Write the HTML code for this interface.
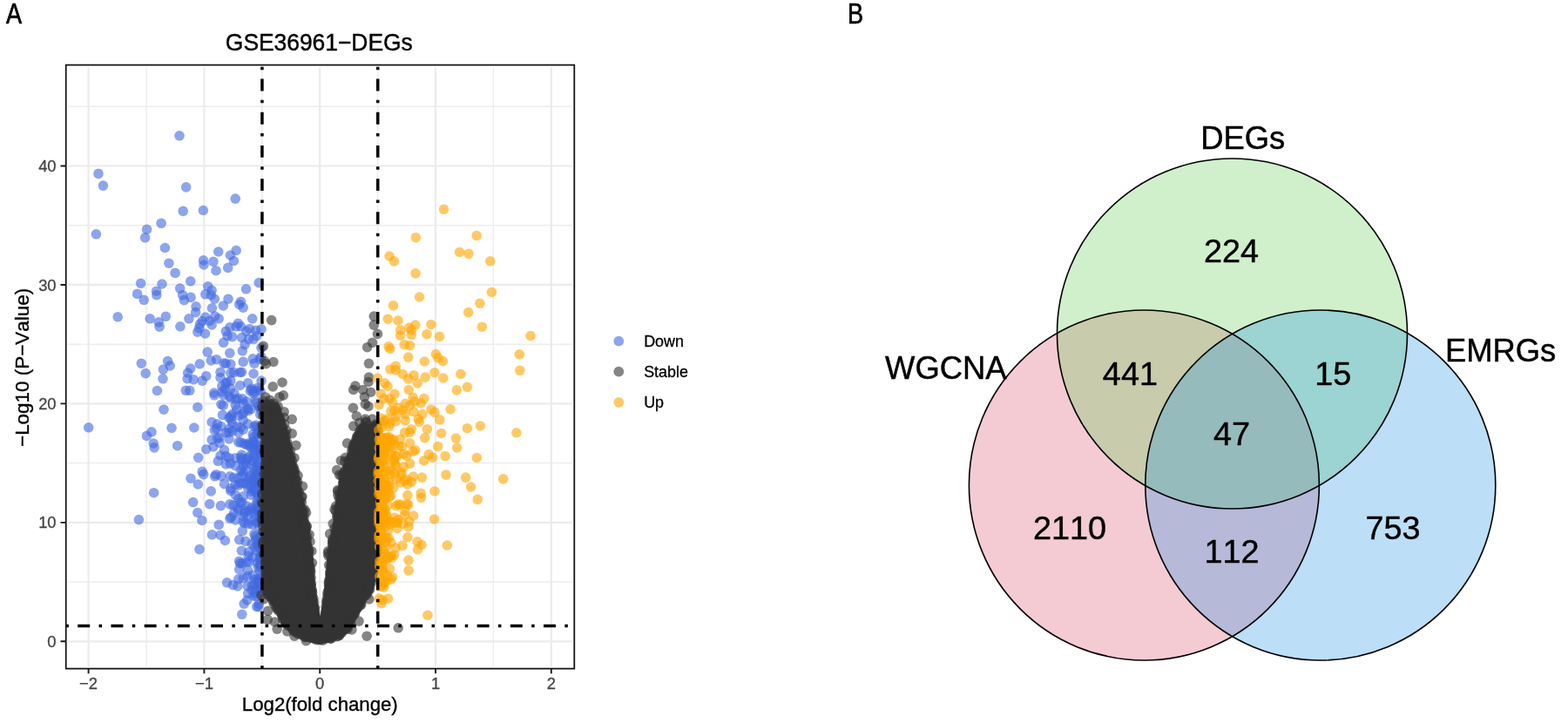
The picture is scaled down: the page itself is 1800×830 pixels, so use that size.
<!DOCTYPE html>
<html lang="en"><head><meta charset="utf-8"><title>GSE36961 DEGs volcano plot and Venn diagram</title>
<style>html,body{margin:0;padding:0;background:#fff;}body{width:1800px;height:830px;overflow:hidden;}svg{display:block;font-family:"Liberation Sans",sans-serif;font-kerning:none;}.pl{font-size:32.6px;fill:#000;stroke:#000;stroke-width:0.7px;}.at{font-size:18.4px;fill:#444;stroke:#444;stroke-width:0.3px;}.ax{font-size:22.2px;fill:#000;stroke:#000;stroke-width:0.35px;}.tt{font-size:26.4px;fill:#000;stroke:#000;stroke-width:0.4px;}.lg{font-size:17.9px;fill:#000;stroke:#000;stroke-width:0.3px;}.vl{font-size:36.4px;fill:#000;stroke:#000;stroke-width:0.45px;}.vn{font-size:37.8px;fill:#000;stroke:#000;stroke-width:0.45px;}</style></head><body>
<svg width="1800" height="830" viewBox="0 0 1800 830" role="img" aria-label="Volcano plot of GSE36961 DEGs and Venn diagram of DEGs, WGCNA and EMRGs">
<rect x="0" y="0" width="1800" height="830" fill="#ffffff"/>
<text class="pl" transform="translate(6.9 27) scale(0.83 1)">A</text>
<text class="pl" transform="translate(973 27) scale(0.83 1)">B</text>
<g id="volcano">
<path d="M168.00 77.20V765.20M300.80 77.20V765.20M433.60 77.20V765.20M566.40 77.20V765.20M78.20 668.07H656.40M78.20 531.62H656.40M78.20 395.17H656.40M78.20 258.72H656.40M78.20 122.27H656.40" stroke="#ededed" stroke-width="1.5" fill="none"/>
<path d="M101.60 77.20V765.20M234.40 77.20V765.20M367.20 77.20V765.20M500.00 77.20V765.20M632.80 77.20V765.20M78.20 736.30H656.40M78.20 599.85H656.40M78.20 463.40H656.40M78.20 326.95H656.40M78.20 190.50H656.40" stroke="#ebebeb" stroke-width="2.2" fill="none"/>
<g fill="#4169e1" fill-opacity="0.6">
<circle cx="206.0" cy="155.8" r="5.8"/>
<circle cx="113.0" cy="199.4" r="5.8"/>
<circle cx="118.4" cy="213.1" r="5.8"/>
<circle cx="213.6" cy="214.9" r="5.8"/>
<circle cx="270.2" cy="228.1" r="5.8"/>
<circle cx="210.2" cy="242.4" r="5.8"/>
<circle cx="233.3" cy="241.5" r="5.8"/>
<circle cx="185.1" cy="256.3" r="5.8"/>
<circle cx="168.6" cy="263.4" r="5.8"/>
<circle cx="110.4" cy="268.8" r="5.8"/>
<circle cx="166.6" cy="272.8" r="5.8"/>
<circle cx="189.4" cy="284.5" r="5.8"/>
<circle cx="193.9" cy="302.2" r="5.8"/>
<circle cx="201.1" cy="313.4" r="5.8"/>
<circle cx="218.7" cy="322.8" r="5.8"/>
<circle cx="250.7" cy="289.0" r="5.8"/>
<circle cx="271.1" cy="287.5" r="5.8"/>
<circle cx="264.4" cy="293.0" r="5.8"/>
<circle cx="268.4" cy="299.5" r="5.8"/>
<circle cx="261.7" cy="307.4" r="5.8"/>
<circle cx="233.5" cy="298.9" r="5.8"/>
<circle cx="234.0" cy="304.0" r="5.8"/>
<circle cx="244.9" cy="300.4" r="5.8"/>
<circle cx="248.0" cy="310.7" r="5.8"/>
<circle cx="161.6" cy="325.3" r="5.8"/>
<circle cx="186.0" cy="326.0" r="5.8"/>
<circle cx="157.6" cy="337.4" r="5.8"/>
<circle cx="165.2" cy="344.3" r="5.8"/>
<circle cx="179.5" cy="334.2" r="5.8"/>
<circle cx="179.8" cy="338.7" r="5.8"/>
<circle cx="206.6" cy="331.1" r="5.8"/>
<circle cx="209.6" cy="338.7" r="5.8"/>
<circle cx="211.4" cy="344.6" r="5.8"/>
<circle cx="219.0" cy="341.4" r="5.8"/>
<circle cx="238.7" cy="328.7" r="5.8"/>
<circle cx="243.1" cy="333.3" r="5.8"/>
<circle cx="235.8" cy="337.8" r="5.8"/>
<circle cx="242.2" cy="338.7" r="5.8"/>
<circle cx="246.3" cy="343.2" r="5.8"/>
<circle cx="262.0" cy="343.2" r="5.8"/>
<circle cx="282.5" cy="331.8" r="5.8"/>
<circle cx="297.3" cy="324.6" r="5.8"/>
<circle cx="276.5" cy="346.3" r="5.8"/>
<circle cx="274.7" cy="349.5" r="5.8"/>
<circle cx="279.2" cy="353.1" r="5.8"/>
<circle cx="256.3" cy="351.0" r="5.8"/>
<circle cx="243.4" cy="353.7" r="5.8"/>
<circle cx="225.0" cy="351.9" r="5.8"/>
<circle cx="224.6" cy="358.6" r="5.8"/>
<circle cx="135.2" cy="363.8" r="5.8"/>
<circle cx="172.2" cy="365.8" r="5.8"/>
<circle cx="190.3" cy="363.3" r="5.8"/>
<circle cx="182.2" cy="369.9" r="5.8"/>
<circle cx="183.1" cy="375.2" r="5.8"/>
<circle cx="206.9" cy="374.8" r="5.8"/>
<circle cx="216.9" cy="365.8" r="5.8"/>
<circle cx="235.8" cy="364.0" r="5.8"/>
<circle cx="232.2" cy="368.5" r="5.8"/>
<circle cx="240.4" cy="368.5" r="5.8"/>
<circle cx="246.7" cy="363.1" r="5.8"/>
<circle cx="251.2" cy="365.8" r="5.8"/>
<circle cx="243.1" cy="373.0" r="5.8"/>
<circle cx="229.5" cy="372.1" r="5.8"/>
<circle cx="228.6" cy="376.6" r="5.8"/>
<circle cx="226.8" cy="381.1" r="5.8"/>
<circle cx="235.5" cy="383.0" r="5.8"/>
<circle cx="289.7" cy="365.8" r="5.8"/>
<circle cx="273.4" cy="371.2" r="5.8"/>
<circle cx="263.9" cy="375.7" r="5.8"/>
<circle cx="271.1" cy="374.8" r="5.8"/>
<circle cx="276.5" cy="374.8" r="5.8"/>
<circle cx="259.3" cy="380.2" r="5.8"/>
<circle cx="261.1" cy="385.7" r="5.8"/>
<circle cx="266.6" cy="386.6" r="5.8"/>
<circle cx="256.6" cy="393.3" r="5.8"/>
<circle cx="286.4" cy="377.5" r="5.8"/>
<circle cx="293.7" cy="379.3" r="5.8"/>
<circle cx="300.0" cy="377.9" r="5.8"/>
<circle cx="282.8" cy="380.2" r="5.8"/>
<circle cx="277.4" cy="387.5" r="5.8"/>
<circle cx="285.5" cy="389.3" r="5.8"/>
<circle cx="291.0" cy="389.3" r="5.8"/>
<circle cx="294.6" cy="385.7" r="5.8"/>
<circle cx="281.0" cy="395.6" r="5.8"/>
<circle cx="300.0" cy="399.2" r="5.8"/>
<circle cx="278.3" cy="402.8" r="5.8"/>
<circle cx="238.2" cy="404.1" r="5.8"/>
<circle cx="162.3" cy="417.2" r="5.8"/>
<circle cx="167.2" cy="428.6" r="5.8"/>
<circle cx="192.5" cy="414.5" r="5.8"/>
<circle cx="195.2" cy="419.9" r="5.8"/>
<circle cx="187.4" cy="424.1" r="5.8"/>
<circle cx="187.0" cy="434.8" r="5.8"/>
<circle cx="180.4" cy="448.5" r="5.8"/>
<circle cx="218.7" cy="423.0" r="5.8"/>
<circle cx="215.6" cy="428.1" r="5.8"/>
<circle cx="215.1" cy="434.8" r="5.8"/>
<circle cx="222.3" cy="435.8" r="5.8"/>
<circle cx="229.2" cy="417.8" r="5.8"/>
<circle cx="236.7" cy="431.7" r="5.8"/>
<circle cx="232.2" cy="437.1" r="5.8"/>
<circle cx="213.3" cy="448.3" r="5.8"/>
<circle cx="217.8" cy="448.3" r="5.8"/>
<circle cx="242.2" cy="414.0" r="5.8"/>
<circle cx="248.5" cy="412.7" r="5.8"/>
<circle cx="259.3" cy="417.2" r="5.8"/>
<circle cx="264.8" cy="418.1" r="5.8"/>
<circle cx="279.2" cy="415.4" r="5.8"/>
<circle cx="291.9" cy="417.2" r="5.8"/>
<circle cx="253.0" cy="427.2" r="5.8"/>
<circle cx="264.8" cy="428.1" r="5.8"/>
<circle cx="277.4" cy="427.2" r="5.8"/>
<circle cx="291.0" cy="429.0" r="5.8"/>
<circle cx="253.0" cy="433.5" r="5.8"/>
<circle cx="264.8" cy="437.1" r="5.8"/>
<circle cx="275.6" cy="442.5" r="5.8"/>
<circle cx="284.6" cy="439.8" r="5.8"/>
<circle cx="300.0" cy="437.1" r="5.8"/>
<circle cx="254.8" cy="443.4" r="5.8"/>
<circle cx="264.8" cy="446.1" r="5.8"/>
<circle cx="245.8" cy="451.0" r="5.8"/>
<circle cx="256.6" cy="453.4" r="5.8"/>
<circle cx="264.8" cy="457.0" r="5.8"/>
<circle cx="278.3" cy="457.9" r="5.8"/>
<circle cx="287.3" cy="448.9" r="5.8"/>
<circle cx="296.4" cy="448.0" r="5.8"/>
<circle cx="253.9" cy="464.2" r="5.8"/>
<circle cx="293.7" cy="462.4" r="5.8"/>
<circle cx="288.3" cy="469.6" r="5.8"/>
<circle cx="188.0" cy="470.2" r="5.8"/>
<circle cx="226.8" cy="467.5" r="5.8"/>
<circle cx="264.8" cy="477.8" r="5.8"/>
<circle cx="273.8" cy="476.9" r="5.8"/>
<circle cx="279.2" cy="482.3" r="5.8"/>
<circle cx="266.6" cy="485.9" r="5.8"/>
<circle cx="243.1" cy="484.5" r="5.8"/>
<circle cx="249.4" cy="486.8" r="5.8"/>
<circle cx="253.9" cy="489.5" r="5.8"/>
<circle cx="284.6" cy="486.8" r="5.8"/>
<circle cx="291.9" cy="489.5" r="5.8"/>
<circle cx="259.3" cy="496.7" r="5.8"/>
<circle cx="266.6" cy="494.9" r="5.8"/>
<circle cx="273.8" cy="496.7" r="5.8"/>
<circle cx="279.2" cy="493.1" r="5.8"/>
<circle cx="290.1" cy="498.6" r="5.8"/>
<circle cx="297.3" cy="494.9" r="5.8"/>
<circle cx="101.7" cy="490.8" r="5.8"/>
<circle cx="197.0" cy="491.3" r="5.8"/>
<circle cx="222.8" cy="491.0" r="5.8"/>
<circle cx="174.0" cy="495.8" r="5.8"/>
<circle cx="168.4" cy="500.4" r="5.8"/>
<circle cx="176.2" cy="509.0" r="5.8"/>
<circle cx="177.1" cy="513.9" r="5.8"/>
<circle cx="203.7" cy="511.7" r="5.8"/>
<circle cx="243.1" cy="504.9" r="5.8"/>
<circle cx="249.4" cy="503.1" r="5.8"/>
<circle cx="252.1" cy="508.5" r="5.8"/>
<circle cx="263.0" cy="504.0" r="5.8"/>
<circle cx="273.8" cy="507.6" r="5.8"/>
<circle cx="282.8" cy="510.3" r="5.8"/>
<circle cx="291.9" cy="508.5" r="5.8"/>
<circle cx="296.4" cy="514.8" r="5.8"/>
<circle cx="236.7" cy="515.7" r="5.8"/>
<circle cx="244.9" cy="513.0" r="5.8"/>
<circle cx="257.5" cy="516.6" r="5.8"/>
<circle cx="227.7" cy="525.3" r="5.8"/>
<circle cx="253.0" cy="523.0" r="5.8"/>
<circle cx="250.3" cy="529.3" r="5.8"/>
<circle cx="263.0" cy="525.7" r="5.8"/>
<circle cx="270.2" cy="525.7" r="5.8"/>
<circle cx="277.4" cy="522.0" r="5.8"/>
<circle cx="284.6" cy="525.7" r="5.8"/>
<circle cx="291.9" cy="522.0" r="5.8"/>
<circle cx="259.3" cy="532.9" r="5.8"/>
<circle cx="270.2" cy="534.7" r="5.8"/>
<circle cx="279.2" cy="534.7" r="5.8"/>
<circle cx="288.3" cy="532.9" r="5.8"/>
<circle cx="295.5" cy="536.5" r="5.8"/>
<circle cx="232.2" cy="541.4" r="5.8"/>
<circle cx="233.7" cy="544.6" r="5.8"/>
<circle cx="219.0" cy="549.2" r="5.8"/>
<circle cx="227.3" cy="556.0" r="5.8"/>
<circle cx="253.9" cy="546.4" r="5.8"/>
<circle cx="263.9" cy="546.8" r="5.8"/>
<circle cx="257.5" cy="555.5" r="5.8"/>
<circle cx="275.6" cy="554.6" r="5.8"/>
<circle cx="284.6" cy="551.0" r="5.8"/>
<circle cx="291.9" cy="547.3" r="5.8"/>
<circle cx="291.9" cy="556.4" r="5.8"/>
<circle cx="270.2" cy="556.4" r="5.8"/>
<circle cx="176.6" cy="565.7" r="5.8"/>
<circle cx="242.2" cy="563.9" r="5.8"/>
<circle cx="221.7" cy="576.6" r="5.8"/>
<circle cx="240.7" cy="578.6" r="5.8"/>
<circle cx="226.8" cy="588.5" r="5.8"/>
<circle cx="231.9" cy="597.5" r="5.8"/>
<circle cx="159.4" cy="596.6" r="5.8"/>
<circle cx="251.2" cy="602.4" r="5.8"/>
<circle cx="243.4" cy="613.8" r="5.8"/>
<circle cx="253.0" cy="614.2" r="5.8"/>
<circle cx="258.4" cy="620.5" r="5.8"/>
<circle cx="229.0" cy="630.6" r="5.8"/>
<circle cx="263.9" cy="578.9" r="5.8"/>
<circle cx="263.9" cy="595.2" r="5.8"/>
<circle cx="270.2" cy="597.0" r="5.8"/>
<circle cx="264.8" cy="560.8" r="5.8"/>
<circle cx="273.8" cy="557.2" r="5.8"/>
<circle cx="282.8" cy="555.4" r="5.8"/>
<circle cx="270.2" cy="568.1" r="5.8"/>
<circle cx="279.2" cy="569.9" r="5.8"/>
<circle cx="288.3" cy="568.1" r="5.8"/>
<circle cx="295.5" cy="573.5" r="5.8"/>
<circle cx="275.6" cy="577.1" r="5.8"/>
<circle cx="282.8" cy="580.7" r="5.8"/>
<circle cx="291.9" cy="584.3" r="5.8"/>
<circle cx="273.8" cy="586.1" r="5.8"/>
<circle cx="284.6" cy="591.6" r="5.8"/>
<circle cx="293.7" cy="593.4" r="5.8"/>
<circle cx="281.0" cy="600.6" r="5.8"/>
<circle cx="290.1" cy="602.4" r="5.8"/>
<circle cx="297.3" cy="604.2" r="5.8"/>
<circle cx="278.3" cy="609.6" r="5.8"/>
<circle cx="291.9" cy="613.3" r="5.8"/>
<circle cx="274.7" cy="619.6" r="5.8"/>
<circle cx="281.9" cy="621.4" r="5.8"/>
<circle cx="289.2" cy="624.1" r="5.8"/>
<circle cx="295.5" cy="625.9" r="5.8"/>
<circle cx="277.4" cy="632.2" r="5.8"/>
<circle cx="294.6" cy="632.2" r="5.8"/>
<circle cx="290.1" cy="639.5" r="5.8"/>
<circle cx="286.4" cy="644.9" r="5.8"/>
<circle cx="275.6" cy="646.7" r="5.8"/>
<circle cx="299.1" cy="645.8" r="5.8"/>
<circle cx="274.7" cy="653.6" r="5.8"/>
<circle cx="284.6" cy="654.8" r="5.8"/>
<circle cx="296.4" cy="651.2" r="5.8"/>
<circle cx="290.1" cy="660.2" r="5.8"/>
<circle cx="279.2" cy="663.9" r="5.8"/>
<circle cx="273.8" cy="664.8" r="5.8"/>
<circle cx="295.5" cy="667.5" r="5.8"/>
<circle cx="260.6" cy="668.9" r="5.8"/>
<circle cx="267.5" cy="671.6" r="5.8"/>
<circle cx="272.9" cy="672.9" r="5.8"/>
<circle cx="289.2" cy="672.0" r="5.8"/>
<circle cx="297.3" cy="670.2" r="5.8"/>
<circle cx="289.2" cy="677.4" r="5.8"/>
<circle cx="284.6" cy="681.6" r="5.8"/>
<circle cx="280.1" cy="693.1" r="5.8"/>
<circle cx="277.8" cy="705.3" r="5.8"/>
<circle cx="281.2" cy="586.6" r="5.8"/>
<circle cx="255.5" cy="476.4" r="5.8"/>
<circle cx="281.7" cy="539.9" r="5.8"/>
<circle cx="298.1" cy="655.0" r="5.8"/>
<circle cx="299.3" cy="522.2" r="5.8"/>
<circle cx="263.2" cy="492.4" r="5.8"/>
<circle cx="298.1" cy="547.7" r="5.8"/>
<circle cx="293.0" cy="458.9" r="5.8"/>
<circle cx="295.3" cy="646.3" r="5.8"/>
<circle cx="278.4" cy="529.3" r="5.8"/>
<circle cx="283.8" cy="689.0" r="5.8"/>
<circle cx="300.0" cy="664.5" r="5.8"/>
<circle cx="295.2" cy="599.7" r="5.8"/>
<circle cx="295.6" cy="664.7" r="5.8"/>
<circle cx="299.4" cy="538.5" r="5.8"/>
<circle cx="258.2" cy="446.6" r="5.8"/>
<circle cx="296.7" cy="618.1" r="5.8"/>
<circle cx="299.1" cy="563.4" r="5.8"/>
<circle cx="288.6" cy="446.4" r="5.8"/>
<circle cx="291.8" cy="670.7" r="5.8"/>
<circle cx="272.9" cy="583.5" r="5.8"/>
<circle cx="298.7" cy="557.2" r="5.8"/>
<circle cx="295.0" cy="498.2" r="5.8"/>
<circle cx="283.0" cy="460.8" r="5.8"/>
<circle cx="273.5" cy="572.8" r="5.8"/>
<circle cx="299.9" cy="678.4" r="5.8"/>
<circle cx="280.4" cy="589.1" r="5.8"/>
<circle cx="259.2" cy="523.5" r="5.8"/>
<circle cx="300.1" cy="593.2" r="5.8"/>
<circle cx="270.2" cy="465.1" r="5.8"/>
<circle cx="268.6" cy="588.9" r="5.8"/>
<circle cx="296.0" cy="531.2" r="5.8"/>
<circle cx="293.8" cy="488.0" r="5.8"/>
<circle cx="298.5" cy="597.1" r="5.8"/>
<circle cx="298.1" cy="593.9" r="5.8"/>
<circle cx="299.9" cy="515.8" r="5.8"/>
<circle cx="271.7" cy="470.2" r="5.8"/>
<circle cx="297.5" cy="641.4" r="5.8"/>
<circle cx="299.9" cy="599.0" r="5.8"/>
<circle cx="262.3" cy="496.7" r="5.8"/>
<circle cx="291.0" cy="597.9" r="5.8"/>
<circle cx="276.3" cy="540.1" r="5.8"/>
<circle cx="299.9" cy="640.8" r="5.8"/>
<circle cx="297.4" cy="571.0" r="5.8"/>
<circle cx="295.0" cy="566.7" r="5.8"/>
<circle cx="279.7" cy="463.4" r="5.8"/>
<circle cx="275.4" cy="427.5" r="5.8"/>
<circle cx="292.4" cy="525.7" r="5.8"/>
<circle cx="293.2" cy="615.4" r="5.8"/>
<circle cx="294.7" cy="696.4" r="5.8"/>
<circle cx="296.5" cy="552.5" r="5.8"/>
<circle cx="255.0" cy="449.8" r="5.8"/>
<circle cx="268.5" cy="427.6" r="5.8"/>
<circle cx="300.2" cy="630.2" r="5.8"/>
<circle cx="294.1" cy="541.5" r="5.8"/>
<circle cx="287.7" cy="558.2" r="5.8"/>
<circle cx="266.8" cy="475.3" r="5.8"/>
<circle cx="253.4" cy="580.6" r="5.8"/>
<circle cx="285.2" cy="601.5" r="5.8"/>
<circle cx="257.0" cy="417.0" r="5.8"/>
<circle cx="263.0" cy="479.7" r="5.8"/>
<circle cx="299.1" cy="449.2" r="5.8"/>
<circle cx="298.4" cy="648.2" r="5.8"/>
<circle cx="296.7" cy="696.7" r="5.8"/>
<circle cx="251.7" cy="502.4" r="5.8"/>
<circle cx="265.3" cy="481.6" r="5.8"/>
<circle cx="280.3" cy="509.4" r="5.8"/>
<circle cx="264.4" cy="532.1" r="5.8"/>
<circle cx="300.0" cy="622.7" r="5.8"/>
<circle cx="293.6" cy="619.7" r="5.8"/>
<circle cx="282.0" cy="532.1" r="5.8"/>
<circle cx="297.1" cy="585.0" r="5.8"/>
<circle cx="285.8" cy="511.3" r="5.8"/>
<circle cx="294.7" cy="685.2" r="5.8"/>
<circle cx="285.5" cy="633.9" r="5.8"/>
<circle cx="298.4" cy="526.9" r="5.8"/>
<circle cx="286.5" cy="548.8" r="5.8"/>
<circle cx="291.1" cy="501.8" r="5.8"/>
<circle cx="299.5" cy="675.4" r="5.8"/>
<circle cx="276.4" cy="507.9" r="5.8"/>
<circle cx="268.1" cy="548.3" r="5.8"/>
<circle cx="292.6" cy="680.8" r="5.8"/>
<circle cx="298.0" cy="412.1" r="5.8"/>
<circle cx="299.0" cy="650.8" r="5.8"/>
<circle cx="288.8" cy="564.3" r="5.8"/>
<circle cx="298.9" cy="540.6" r="5.8"/>
<circle cx="291.9" cy="542.2" r="5.8"/>
<circle cx="297.3" cy="693.5" r="5.8"/>
<circle cx="287.3" cy="523.2" r="5.8"/>
<circle cx="270.8" cy="458.9" r="5.8"/>
<circle cx="292.3" cy="665.2" r="5.8"/>
<circle cx="296.1" cy="556.7" r="5.8"/>
<circle cx="291.6" cy="553.4" r="5.8"/>
<circle cx="299.4" cy="662.0" r="5.8"/>
<circle cx="299.6" cy="588.8" r="5.8"/>
<circle cx="296.4" cy="673.9" r="5.8"/>
<circle cx="273.9" cy="548.9" r="5.8"/>
<circle cx="292.8" cy="563.0" r="5.8"/>
<circle cx="300.3" cy="560.7" r="5.8"/>
<circle cx="297.9" cy="667.1" r="5.8"/>
<circle cx="248.0" cy="544.7" r="5.8"/>
<circle cx="299.1" cy="636.8" r="5.8"/>
<circle cx="289.7" cy="528.9" r="5.8"/>
<circle cx="299.9" cy="573.0" r="5.8"/>
<circle cx="290.9" cy="517.2" r="5.8"/>
<circle cx="264.9" cy="563.5" r="5.8"/>
<circle cx="299.7" cy="470.9" r="5.8"/>
<circle cx="246.2" cy="493.8" r="5.8"/>
<circle cx="289.1" cy="588.0" r="5.8"/>
<circle cx="297.0" cy="533.5" r="5.8"/>
<circle cx="277.8" cy="576.8" r="5.8"/>
<circle cx="298.6" cy="475.8" r="5.8"/>
<circle cx="290.7" cy="448.6" r="5.8"/>
<circle cx="294.2" cy="578.4" r="5.8"/>
<circle cx="284.2" cy="672.9" r="5.8"/>
<circle cx="263.8" cy="405.3" r="5.8"/>
<circle cx="292.4" cy="514.8" r="5.8"/>
<circle cx="290.7" cy="506.6" r="5.8"/>
<circle cx="299.0" cy="583.6" r="5.8"/>
<circle cx="288.9" cy="582.9" r="5.8"/>
<circle cx="296.9" cy="466.5" r="5.8"/>
<circle cx="295.4" cy="544.8" r="5.8"/>
<circle cx="285.1" cy="638.3" r="5.8"/>
<circle cx="278.0" cy="646.8" r="5.8"/>
<circle cx="276.3" cy="490.8" r="5.8"/>
<circle cx="246.6" cy="546.8" r="5.8"/>
<circle cx="293.7" cy="511.3" r="5.8"/>
<circle cx="299.9" cy="497.1" r="5.8"/>
<circle cx="298.8" cy="616.4" r="5.8"/>
<circle cx="298.8" cy="467.4" r="5.8"/>
<circle cx="265.4" cy="593.7" r="5.8"/>
<circle cx="285.5" cy="586.0" r="5.8"/>
<circle cx="294.6" cy="491.0" r="5.8"/>
<circle cx="284.7" cy="560.5" r="5.8"/>
<circle cx="290.3" cy="551.4" r="5.8"/>
<circle cx="287.7" cy="513.2" r="5.8"/>
<circle cx="299.4" cy="578.8" r="5.8"/>
<circle cx="290.8" cy="562.1" r="5.8"/>
<circle cx="248.7" cy="492.1" r="5.8"/>
<circle cx="279.1" cy="599.1" r="5.8"/>
<circle cx="283.4" cy="527.9" r="5.8"/>
<circle cx="299.6" cy="490.4" r="5.8"/>
<circle cx="293.9" cy="677.5" r="5.8"/>
<circle cx="297.8" cy="554.2" r="5.8"/>
<circle cx="276.6" cy="525.3" r="5.8"/>
<circle cx="256.4" cy="465.4" r="5.8"/>
<circle cx="296.8" cy="588.6" r="5.8"/>
<circle cx="284.9" cy="471.4" r="5.8"/>
<circle cx="272.0" cy="490.0" r="5.8"/>
<circle cx="297.6" cy="624.1" r="5.8"/>
<circle cx="299.7" cy="409.6" r="5.8"/>
<circle cx="246.1" cy="453.8" r="5.8"/>
<circle cx="273.2" cy="457.4" r="5.8"/>
<circle cx="259.0" cy="439.9" r="5.8"/>
<circle cx="295.0" cy="584.5" r="5.8"/>
<circle cx="267.9" cy="579.9" r="5.8"/>
<circle cx="260.9" cy="438.7" r="5.8"/>
<circle cx="300.4" cy="565.6" r="5.8"/>
<circle cx="278.3" cy="545.9" r="5.8"/>
<circle cx="287.3" cy="546.3" r="5.8"/>
<circle cx="298.6" cy="519.3" r="5.8"/>
<circle cx="279.5" cy="592.8" r="5.8"/>
<circle cx="279.9" cy="472.8" r="5.8"/>
<circle cx="299.6" cy="638.8" r="5.8"/>
<circle cx="291.6" cy="537.4" r="5.8"/>
<circle cx="278.5" cy="475.6" r="5.8"/>
<circle cx="286.0" cy="508.6" r="5.8"/>
<circle cx="295.9" cy="580.4" r="5.8"/>
<circle cx="283.0" cy="645.3" r="5.8"/>
<circle cx="274.6" cy="644.2" r="5.8"/>
<circle cx="263.5" cy="455.2" r="5.8"/>
<circle cx="296.4" cy="503.9" r="5.8"/>
<circle cx="299.5" cy="585.7" r="5.8"/>
<circle cx="284.1" cy="469.2" r="5.8"/>
<circle cx="268.8" cy="451.5" r="5.8"/>
<circle cx="278.9" cy="541.8" r="5.8"/>
<circle cx="295.6" cy="445.3" r="5.8"/>
<circle cx="296.8" cy="628.1" r="5.8"/>
<circle cx="283.9" cy="661.6" r="5.8"/>
<circle cx="291.1" cy="451.4" r="5.8"/>
<circle cx="292.1" cy="628.3" r="5.8"/>
<circle cx="291.2" cy="684.0" r="5.8"/>
<circle cx="277.7" cy="527.1" r="5.8"/>
<circle cx="290.2" cy="411.9" r="5.8"/>
<circle cx="279.2" cy="554.7" r="5.8"/>
</g>
<path d="M317.4 462.8L325.5 480.9L330.5 498.7L335.0 516.6L339.0 534.5L342.5 552.6L347.0 570.6L351.4 588.5L353.9 606.3L355.6 620.3L358.2 638.3L359.9 656.2L361.4 674.3L363.7 690.3L367.5 708.9L371.3 690.3L373.6 674.3L375.1 656.2L377.0 638.3L379.4 620.4L382.1 606.4L384.6 588.4L387.1 570.4L390.5 552.6L395.0 534.7L401.0 516.9L407.3 499.2L415.4 486.7L433.4 487.5L433.4 654.7L427.4 678.4L417.9 691.1L412.4 702.2L406.9 713.0L401.7 723.3L391.7 731.4L381.3 735.5L367.0 738.6L355.7 736.1L345.3 732.4L335.0 726.2L324.6 715.9L313.9 696.5L303.2 680.7L301.1 669.7L301.1 464.4Z" fill="#333333" stroke="#333333" stroke-width="1" stroke-linejoin="round"/>
<g fill="#333333" fill-opacity="0.6">
<circle cx="311.7" cy="367.6" r="5.8"/>
<circle cx="302.3" cy="397.4" r="5.8"/>
<circle cx="303.6" cy="414.6" r="5.8"/>
<circle cx="313.9" cy="415.5" r="5.8"/>
<circle cx="305.4" cy="417.7" r="5.8"/>
<circle cx="324.0" cy="439.0" r="5.8"/>
<circle cx="313.2" cy="443.9" r="5.8"/>
<circle cx="325.3" cy="453.9" r="5.8"/>
<circle cx="320.8" cy="455.7" r="5.8"/>
<circle cx="304.5" cy="455.7" r="5.8"/>
<circle cx="309.9" cy="459.3" r="5.8"/>
<circle cx="306.3" cy="464.7" r="5.8"/>
<circle cx="318.1" cy="473.7" r="5.8"/>
<circle cx="326.2" cy="479.2" r="5.8"/>
<circle cx="335.2" cy="481.3" r="5.8"/>
<circle cx="313.6" cy="479.2" r="5.8"/>
<circle cx="309.9" cy="484.6" r="5.8"/>
<circle cx="317.2" cy="486.4" r="5.8"/>
<circle cx="429.2" cy="363.1" r="5.8"/>
<circle cx="429.2" cy="373.1" r="5.8"/>
<circle cx="433.4" cy="383.4" r="5.8"/>
<circle cx="427.4" cy="393.3" r="5.8"/>
<circle cx="421.6" cy="398.7" r="5.8"/>
<circle cx="423.4" cy="417.3" r="5.8"/>
<circle cx="423.4" cy="433.1" r="5.8"/>
<circle cx="422.9" cy="438.5" r="5.8"/>
<circle cx="407.9" cy="443.0" r="5.8"/>
<circle cx="405.7" cy="447.5" r="5.8"/>
<circle cx="416.6" cy="447.5" r="5.8"/>
<circle cx="425.6" cy="450.2" r="5.8"/>
<circle cx="418.4" cy="455.7" r="5.8"/>
<circle cx="419.3" cy="463.8" r="5.8"/>
<circle cx="405.4" cy="468.3" r="5.8"/>
<circle cx="422.9" cy="466.5" r="5.8"/>
<circle cx="409.3" cy="477.7" r="5.8"/>
<circle cx="419.3" cy="481.0" r="5.8"/>
<circle cx="427.4" cy="481.0" r="5.8"/>
<circle cx="405.7" cy="489.1" r="5.8"/>
<circle cx="335.2" cy="497.7" r="5.8"/>
<circle cx="328.9" cy="494.0" r="5.8"/>
<circle cx="339.8" cy="511.2" r="5.8"/>
<circle cx="333.4" cy="517.5" r="5.8"/>
<circle cx="338.0" cy="525.7" r="5.8"/>
<circle cx="337.0" cy="541.9" r="5.8"/>
<circle cx="341.6" cy="552.8" r="5.8"/>
<circle cx="307.6" cy="701.3" r="5.8"/>
<circle cx="307.2" cy="711.3" r="5.8"/>
<circle cx="315.4" cy="714.0" r="5.8"/>
<circle cx="318.1" cy="722.1" r="5.8"/>
<circle cx="329.8" cy="724.8" r="5.8"/>
<circle cx="338.0" cy="730.2" r="5.8"/>
<circle cx="351.5" cy="735.7" r="5.8"/>
<circle cx="421.1" cy="730.2" r="5.8"/>
<circle cx="457.2" cy="720.8" r="5.8"/>
<circle cx="412.0" cy="713.1" r="5.8"/>
<circle cx="403.9" cy="723.0" r="5.8"/>
<circle cx="423.8" cy="687.8" r="5.8"/>
<circle cx="414.8" cy="694.1" r="5.8"/>
<circle cx="357.8" cy="632.7" r="5.8"/>
<circle cx="358.4" cy="646.2" r="5.8"/>
<circle cx="376.8" cy="632.7" r="5.8"/>
<circle cx="300.0" cy="683.3" r="5.8"/>
<circle cx="302.7" cy="687.8" r="5.8"/>
<circle cx="337.0" cy="536.0" r="5.8"/>
<circle cx="343.4" cy="564.9" r="5.8"/>
<circle cx="346.1" cy="570.4" r="5.8"/>
<circle cx="349.7" cy="584.8" r="5.8"/>
<circle cx="351.5" cy="588.4" r="5.8"/>
<circle cx="347.9" cy="599.3" r="5.8"/>
<circle cx="351.5" cy="604.7" r="5.8"/>
<circle cx="355.1" cy="613.7" r="5.8"/>
<circle cx="420.2" cy="485.4" r="5.8"/>
<circle cx="416.6" cy="498.1" r="5.8"/>
<circle cx="398.5" cy="508.9" r="5.8"/>
<circle cx="405.7" cy="510.7" r="5.8"/>
<circle cx="396.7" cy="525.2" r="5.8"/>
<circle cx="391.3" cy="528.8" r="5.8"/>
<circle cx="386.7" cy="539.6" r="5.8"/>
<circle cx="389.5" cy="545.1" r="5.8"/>
<circle cx="394.9" cy="548.7" r="5.8"/>
<circle cx="387.7" cy="564.0" r="5.8"/>
<circle cx="391.3" cy="574.0" r="5.8"/>
<circle cx="384.0" cy="584.8" r="5.8"/>
<circle cx="387.7" cy="590.2" r="5.8"/>
<circle cx="382.2" cy="601.1" r="5.8"/>
<circle cx="378.6" cy="612.8" r="5.8"/>
<circle cx="384.0" cy="606.5" r="5.8"/>
<circle cx="314.1" cy="463.1" r="5.8"/>
<circle cx="313.9" cy="465.1" r="5.8"/>
<circle cx="316.7" cy="467.7" r="5.8"/>
<circle cx="316.1" cy="469.5" r="5.8"/>
<circle cx="317.7" cy="471.6" r="5.8"/>
<circle cx="326.1" cy="472.7" r="5.8"/>
<circle cx="318.3" cy="476.5" r="5.8"/>
<circle cx="320.5" cy="478.4" r="5.8"/>
<circle cx="320.8" cy="481.0" r="5.8"/>
<circle cx="321.7" cy="482.6" r="5.8"/>
<circle cx="322.5" cy="484.4" r="5.8"/>
<circle cx="326.6" cy="486.7" r="5.8"/>
<circle cx="324.5" cy="489.9" r="5.8"/>
<circle cx="323.3" cy="492.3" r="5.8"/>
<circle cx="324.6" cy="493.8" r="5.8"/>
<circle cx="326.7" cy="496.7" r="5.8"/>
<circle cx="325.4" cy="497.8" r="5.8"/>
<circle cx="328.3" cy="500.6" r="5.8"/>
<circle cx="327.1" cy="503.3" r="5.8"/>
<circle cx="326.8" cy="506.3" r="5.8"/>
<circle cx="329.7" cy="507.6" r="5.8"/>
<circle cx="327.7" cy="510.4" r="5.8"/>
<circle cx="329.7" cy="511.4" r="5.8"/>
<circle cx="330.2" cy="513.1" r="5.8"/>
<circle cx="330.3" cy="515.6" r="5.8"/>
<circle cx="331.3" cy="518.3" r="5.8"/>
<circle cx="330.6" cy="521.2" r="5.8"/>
<circle cx="333.9" cy="523.6" r="5.8"/>
<circle cx="332.0" cy="526.4" r="5.8"/>
<circle cx="333.8" cy="526.8" r="5.8"/>
<circle cx="335.5" cy="529.6" r="5.8"/>
<circle cx="333.9" cy="531.8" r="5.8"/>
<circle cx="334.7" cy="534.8" r="5.8"/>
<circle cx="336.4" cy="536.6" r="5.8"/>
<circle cx="334.6" cy="539.5" r="5.8"/>
<circle cx="338.4" cy="540.2" r="5.8"/>
<circle cx="337.8" cy="541.9" r="5.8"/>
<circle cx="338.4" cy="544.7" r="5.8"/>
<circle cx="342.0" cy="545.8" r="5.8"/>
<circle cx="339.7" cy="549.8" r="5.8"/>
<circle cx="339.2" cy="551.6" r="5.8"/>
<circle cx="339.1" cy="555.8" r="5.8"/>
<circle cx="340.8" cy="555.6" r="5.8"/>
<circle cx="347.4" cy="558.2" r="5.8"/>
<circle cx="341.4" cy="561.3" r="5.8"/>
<circle cx="340.6" cy="562.7" r="5.8"/>
<circle cx="342.2" cy="566.7" r="5.8"/>
<circle cx="341.2" cy="567.7" r="5.8"/>
<circle cx="346.9" cy="570.1" r="5.8"/>
<circle cx="342.5" cy="574.1" r="5.8"/>
<circle cx="344.9" cy="575.5" r="5.8"/>
<circle cx="346.3" cy="576.4" r="5.8"/>
<circle cx="344.2" cy="579.1" r="5.8"/>
<circle cx="344.2" cy="582.0" r="5.8"/>
<circle cx="347.2" cy="584.8" r="5.8"/>
<circle cx="347.3" cy="585.4" r="5.8"/>
<circle cx="346.4" cy="589.7" r="5.8"/>
<circle cx="349.0" cy="590.2" r="5.8"/>
<circle cx="347.1" cy="593.3" r="5.8"/>
<circle cx="349.0" cy="594.4" r="5.8"/>
<circle cx="347.5" cy="596.5" r="5.8"/>
<circle cx="349.0" cy="598.8" r="5.8"/>
<circle cx="350.4" cy="601.6" r="5.8"/>
<circle cx="352.4" cy="604.1" r="5.8"/>
<circle cx="351.1" cy="606.7" r="5.8"/>
<circle cx="351.2" cy="606.9" r="5.8"/>
<circle cx="350.2" cy="610.7" r="5.8"/>
<circle cx="349.4" cy="612.6" r="5.8"/>
<circle cx="352.0" cy="614.1" r="5.8"/>
<circle cx="352.1" cy="617.4" r="5.8"/>
<circle cx="351.9" cy="620.6" r="5.8"/>
<circle cx="356.0" cy="621.7" r="5.8"/>
<circle cx="351.9" cy="624.4" r="5.8"/>
<circle cx="352.4" cy="625.5" r="5.8"/>
<circle cx="353.7" cy="629.4" r="5.8"/>
<circle cx="354.5" cy="631.4" r="5.8"/>
<circle cx="354.3" cy="633.3" r="5.8"/>
<circle cx="354.2" cy="634.9" r="5.8"/>
<circle cx="353.8" cy="637.9" r="5.8"/>
<circle cx="354.4" cy="640.7" r="5.8"/>
<circle cx="354.4" cy="642.0" r="5.8"/>
<circle cx="354.5" cy="644.2" r="5.8"/>
<circle cx="354.3" cy="647.6" r="5.8"/>
<circle cx="355.8" cy="649.7" r="5.8"/>
<circle cx="354.6" cy="652.1" r="5.8"/>
<circle cx="356.1" cy="652.4" r="5.8"/>
<circle cx="356.5" cy="655.3" r="5.8"/>
<circle cx="356.6" cy="657.0" r="5.8"/>
<circle cx="355.5" cy="660.4" r="5.8"/>
<circle cx="357.0" cy="663.0" r="5.8"/>
<circle cx="356.1" cy="665.0" r="5.8"/>
<circle cx="355.7" cy="665.9" r="5.8"/>
<circle cx="357.4" cy="669.9" r="5.8"/>
<circle cx="357.2" cy="672.2" r="5.8"/>
<circle cx="356.2" cy="673.5" r="5.8"/>
<circle cx="358.2" cy="676.8" r="5.8"/>
<circle cx="357.7" cy="678.2" r="5.8"/>
<circle cx="358.6" cy="680.2" r="5.8"/>
<circle cx="357.9" cy="682.6" r="5.8"/>
<circle cx="358.5" cy="684.2" r="5.8"/>
<circle cx="360.0" cy="687.3" r="5.8"/>
<circle cx="359.1" cy="689.5" r="5.8"/>
<circle cx="360.5" cy="691.8" r="5.8"/>
<circle cx="359.4" cy="695.3" r="5.8"/>
<circle cx="361.0" cy="697.5" r="5.8"/>
<circle cx="361.2" cy="698.1" r="5.8"/>
<circle cx="361.1" cy="701.6" r="5.8"/>
<circle cx="374.1" cy="701.9" r="5.8"/>
<circle cx="375.4" cy="697.9" r="5.8"/>
<circle cx="374.1" cy="696.9" r="5.8"/>
<circle cx="375.3" cy="693.2" r="5.8"/>
<circle cx="374.6" cy="691.3" r="5.8"/>
<circle cx="375.8" cy="690.9" r="5.8"/>
<circle cx="375.1" cy="687.6" r="5.8"/>
<circle cx="376.7" cy="684.3" r="5.8"/>
<circle cx="375.9" cy="682.2" r="5.8"/>
<circle cx="376.2" cy="679.7" r="5.8"/>
<circle cx="377.3" cy="677.6" r="5.8"/>
<circle cx="377.6" cy="676.5" r="5.8"/>
<circle cx="377.5" cy="672.4" r="5.8"/>
<circle cx="378.0" cy="672.0" r="5.8"/>
<circle cx="377.4" cy="669.5" r="5.8"/>
<circle cx="377.5" cy="667.4" r="5.8"/>
<circle cx="378.2" cy="665.1" r="5.8"/>
<circle cx="379.3" cy="662.7" r="5.8"/>
<circle cx="379.0" cy="660.4" r="5.8"/>
<circle cx="378.8" cy="658.4" r="5.8"/>
<circle cx="378.8" cy="656.6" r="5.8"/>
<circle cx="380.0" cy="654.5" r="5.8"/>
<circle cx="379.3" cy="650.9" r="5.8"/>
<circle cx="377.6" cy="648.6" r="5.8"/>
<circle cx="380.3" cy="646.7" r="5.8"/>
<circle cx="380.5" cy="644.6" r="5.8"/>
<circle cx="380.4" cy="641.0" r="5.8"/>
<circle cx="380.5" cy="639.3" r="5.8"/>
<circle cx="377.1" cy="638.2" r="5.8"/>
<circle cx="376.5" cy="635.4" r="5.8"/>
<circle cx="381.8" cy="632.4" r="5.8"/>
<circle cx="380.7" cy="631.3" r="5.8"/>
<circle cx="383.7" cy="629.5" r="5.8"/>
<circle cx="382.0" cy="626.3" r="5.8"/>
<circle cx="381.5" cy="624.5" r="5.8"/>
<circle cx="381.8" cy="621.9" r="5.8"/>
<circle cx="381.7" cy="620.9" r="5.8"/>
<circle cx="382.0" cy="618.5" r="5.8"/>
<circle cx="384.7" cy="615.3" r="5.8"/>
<circle cx="385.7" cy="612.9" r="5.8"/>
<circle cx="384.9" cy="610.9" r="5.8"/>
<circle cx="386.4" cy="609.4" r="5.8"/>
<circle cx="387.2" cy="607.0" r="5.8"/>
<circle cx="387.4" cy="603.4" r="5.8"/>
<circle cx="386.9" cy="602.1" r="5.8"/>
<circle cx="388.3" cy="598.4" r="5.8"/>
<circle cx="388.7" cy="596.8" r="5.8"/>
<circle cx="386.9" cy="594.0" r="5.8"/>
<circle cx="387.0" cy="592.5" r="5.8"/>
<circle cx="388.9" cy="590.0" r="5.8"/>
<circle cx="385.4" cy="586.9" r="5.8"/>
<circle cx="389.2" cy="585.0" r="5.8"/>
<circle cx="388.3" cy="582.8" r="5.8"/>
<circle cx="385.6" cy="581.0" r="5.8"/>
<circle cx="390.7" cy="579.6" r="5.8"/>
<circle cx="390.1" cy="576.5" r="5.8"/>
<circle cx="391.5" cy="574.0" r="5.8"/>
<circle cx="389.2" cy="571.5" r="5.8"/>
<circle cx="390.9" cy="569.5" r="5.8"/>
<circle cx="387.9" cy="568.3" r="5.8"/>
<circle cx="391.2" cy="565.0" r="5.8"/>
<circle cx="387.7" cy="562.5" r="5.8"/>
<circle cx="394.3" cy="562.1" r="5.8"/>
<circle cx="393.2" cy="560.0" r="5.8"/>
<circle cx="393.5" cy="555.5" r="5.8"/>
<circle cx="393.8" cy="553.3" r="5.8"/>
<circle cx="394.7" cy="553.3" r="5.8"/>
<circle cx="396.1" cy="551.3" r="5.8"/>
<circle cx="391.9" cy="546.1" r="5.8"/>
<circle cx="393.7" cy="545.1" r="5.8"/>
<circle cx="395.6" cy="543.3" r="5.8"/>
<circle cx="395.5" cy="541.2" r="5.8"/>
<circle cx="397.3" cy="538.0" r="5.8"/>
<circle cx="399.0" cy="536.3" r="5.8"/>
<circle cx="400.6" cy="535.7" r="5.8"/>
<circle cx="399.6" cy="533.0" r="5.8"/>
<circle cx="395.7" cy="529.8" r="5.8"/>
<circle cx="400.7" cy="528.6" r="5.8"/>
<circle cx="401.7" cy="526.6" r="5.8"/>
<circle cx="404.2" cy="523.2" r="5.8"/>
<circle cx="405.3" cy="521.0" r="5.8"/>
<circle cx="403.5" cy="518.4" r="5.8"/>
<circle cx="405.9" cy="517.5" r="5.8"/>
<circle cx="404.7" cy="515.0" r="5.8"/>
<circle cx="405.8" cy="513.2" r="5.8"/>
<circle cx="407.0" cy="509.6" r="5.8"/>
<circle cx="408.1" cy="508.5" r="5.8"/>
<circle cx="408.2" cy="506.4" r="5.8"/>
<circle cx="409.4" cy="503.4" r="5.8"/>
<circle cx="410.8" cy="500.1" r="5.8"/>
<circle cx="409.9" cy="500.9" r="5.8"/>
<circle cx="412.5" cy="499.2" r="5.8"/>
<circle cx="412.6" cy="495.1" r="5.8"/>
<circle cx="414.0" cy="494.3" r="5.8"/>
<circle cx="416.2" cy="491.1" r="5.8"/>
<circle cx="418.2" cy="490.6" r="5.8"/>
<circle cx="412.8" cy="485.3" r="5.8"/>
<circle cx="415.5" cy="491.8" r="5.8"/>
<circle cx="417.4" cy="492.1" r="5.8"/>
<circle cx="419.7" cy="483.8" r="5.8"/>
<circle cx="422.1" cy="492.2" r="5.8"/>
<circle cx="423.2" cy="488.4" r="5.8"/>
<circle cx="426.1" cy="492.6" r="5.8"/>
<circle cx="428.3" cy="492.2" r="5.8"/>
<circle cx="430.4" cy="490.2" r="5.8"/>
<circle cx="431.7" cy="492.8" r="5.8"/>
<circle cx="433.5" cy="488.4" r="5.8"/>
<circle cx="432.0" cy="486.5" r="5.8"/>
<circle cx="431.6" cy="488.5" r="5.8"/>
<circle cx="429.8" cy="489.4" r="5.8"/>
<circle cx="428.8" cy="493.7" r="5.8"/>
<circle cx="433.5" cy="494.9" r="5.8"/>
<circle cx="431.3" cy="497.6" r="5.8"/>
<circle cx="431.9" cy="499.7" r="5.8"/>
<circle cx="430.9" cy="502.5" r="5.8"/>
<circle cx="432.2" cy="503.6" r="5.8"/>
<circle cx="433.5" cy="506.5" r="5.8"/>
<circle cx="428.9" cy="507.8" r="5.8"/>
<circle cx="429.8" cy="511.0" r="5.8"/>
<circle cx="431.3" cy="512.6" r="5.8"/>
<circle cx="429.0" cy="515.2" r="5.8"/>
<circle cx="428.0" cy="516.4" r="5.8"/>
<circle cx="429.6" cy="518.2" r="5.8"/>
<circle cx="428.6" cy="522.3" r="5.8"/>
<circle cx="433.5" cy="524.6" r="5.8"/>
<circle cx="430.6" cy="526.4" r="5.8"/>
<circle cx="430.0" cy="527.8" r="5.8"/>
<circle cx="433.5" cy="529.2" r="5.8"/>
<circle cx="428.9" cy="531.6" r="5.8"/>
<circle cx="428.4" cy="535.4" r="5.8"/>
<circle cx="429.6" cy="536.8" r="5.8"/>
<circle cx="429.6" cy="538.4" r="5.8"/>
<circle cx="429.5" cy="540.3" r="5.8"/>
<circle cx="430.7" cy="544.1" r="5.8"/>
<circle cx="430.0" cy="546.6" r="5.8"/>
<circle cx="433.5" cy="548.8" r="5.8"/>
<circle cx="429.9" cy="550.4" r="5.8"/>
<circle cx="433.0" cy="551.9" r="5.8"/>
<circle cx="428.9" cy="555.5" r="5.8"/>
<circle cx="430.0" cy="555.7" r="5.8"/>
<circle cx="428.6" cy="560.0" r="5.8"/>
<circle cx="429.3" cy="561.0" r="5.8"/>
<circle cx="428.4" cy="562.7" r="5.8"/>
<circle cx="428.5" cy="566.3" r="5.8"/>
<circle cx="433.1" cy="567.4" r="5.8"/>
<circle cx="430.1" cy="569.1" r="5.8"/>
<circle cx="432.3" cy="571.6" r="5.8"/>
<circle cx="427.9" cy="574.0" r="5.8"/>
<circle cx="430.2" cy="577.7" r="5.8"/>
<circle cx="429.2" cy="578.8" r="5.8"/>
<circle cx="428.9" cy="580.9" r="5.8"/>
<circle cx="428.2" cy="583.8" r="5.8"/>
<circle cx="430.1" cy="584.6" r="5.8"/>
<circle cx="429.2" cy="587.4" r="5.8"/>
<circle cx="430.3" cy="589.3" r="5.8"/>
<circle cx="433.5" cy="592.3" r="5.8"/>
<circle cx="430.0" cy="594.3" r="5.8"/>
<circle cx="429.2" cy="596.8" r="5.8"/>
<circle cx="428.3" cy="599.4" r="5.8"/>
<circle cx="430.3" cy="599.9" r="5.8"/>
<circle cx="429.0" cy="604.2" r="5.8"/>
<circle cx="428.9" cy="605.0" r="5.8"/>
<circle cx="430.0" cy="608.1" r="5.8"/>
<circle cx="430.4" cy="610.0" r="5.8"/>
<circle cx="430.0" cy="611.3" r="5.8"/>
<circle cx="431.0" cy="614.5" r="5.8"/>
<circle cx="430.7" cy="616.8" r="5.8"/>
<circle cx="429.3" cy="619.2" r="5.8"/>
<circle cx="429.1" cy="620.5" r="5.8"/>
<circle cx="430.2" cy="622.1" r="5.8"/>
<circle cx="433.5" cy="625.0" r="5.8"/>
<circle cx="430.2" cy="627.0" r="5.8"/>
<circle cx="428.3" cy="630.4" r="5.8"/>
<circle cx="433.5" cy="632.3" r="5.8"/>
<circle cx="433.0" cy="633.9" r="5.8"/>
<circle cx="432.0" cy="636.1" r="5.8"/>
<circle cx="430.2" cy="638.8" r="5.8"/>
<circle cx="430.0" cy="640.4" r="5.8"/>
<circle cx="429.5" cy="642.9" r="5.8"/>
<circle cx="428.2" cy="645.7" r="5.8"/>
<circle cx="427.9" cy="648.3" r="5.8"/>
<circle cx="433.2" cy="648.5" r="5.8"/>
<circle cx="428.6" cy="652.0" r="5.8"/>
<circle cx="428.6" cy="653.1" r="5.8"/>
<circle cx="429.5" cy="653.9" r="5.8"/>
<circle cx="427.7" cy="657.3" r="5.8"/>
<circle cx="428.7" cy="658.3" r="5.8"/>
<circle cx="427.5" cy="660.9" r="5.8"/>
<circle cx="427.7" cy="663.3" r="5.8"/>
<circle cx="426.0" cy="664.9" r="5.8"/>
<circle cx="426.4" cy="668.9" r="5.8"/>
<circle cx="424.6" cy="670.0" r="5.8"/>
<circle cx="424.2" cy="671.1" r="5.8"/>
<circle cx="424.1" cy="673.6" r="5.8"/>
<circle cx="423.2" cy="676.8" r="5.8"/>
<circle cx="424.6" cy="676.5" r="5.8"/>
<circle cx="422.8" cy="678.8" r="5.8"/>
<circle cx="421.2" cy="680.8" r="5.8"/>
<circle cx="421.0" cy="682.9" r="5.8"/>
<circle cx="418.5" cy="684.4" r="5.8"/>
<circle cx="417.1" cy="685.1" r="5.8"/>
<circle cx="415.5" cy="688.4" r="5.8"/>
<circle cx="414.4" cy="690.2" r="5.8"/>
<circle cx="414.1" cy="692.6" r="5.8"/>
<circle cx="412.8" cy="695.5" r="5.8"/>
<circle cx="410.8" cy="697.2" r="5.8"/>
<circle cx="409.9" cy="698.4" r="5.8"/>
<circle cx="408.6" cy="700.5" r="5.8"/>
<circle cx="407.2" cy="704.4" r="5.8"/>
<circle cx="406.9" cy="705.0" r="5.8"/>
<circle cx="404.5" cy="707.4" r="5.8"/>
<circle cx="403.9" cy="709.1" r="5.8"/>
<circle cx="402.1" cy="713.3" r="5.8"/>
<circle cx="402.4" cy="715.7" r="5.8"/>
<circle cx="400.5" cy="717.9" r="5.8"/>
<circle cx="398.5" cy="719.5" r="5.8"/>
<circle cx="398.5" cy="720.1" r="5.8"/>
<circle cx="398.9" cy="722.3" r="5.8"/>
<circle cx="397.1" cy="721.7" r="5.8"/>
<circle cx="395.4" cy="722.6" r="5.8"/>
<circle cx="393.5" cy="724.3" r="5.8"/>
<circle cx="392.4" cy="726.2" r="5.8"/>
<circle cx="389.7" cy="729.3" r="5.8"/>
<circle cx="390.1" cy="728.1" r="5.8"/>
<circle cx="388.3" cy="730.1" r="5.8"/>
<circle cx="386.3" cy="730.6" r="5.8"/>
<circle cx="382.0" cy="730.9" r="5.8"/>
<circle cx="380.3" cy="732.9" r="5.8"/>
<circle cx="379.3" cy="733.2" r="5.8"/>
<circle cx="377.4" cy="732.3" r="5.8"/>
<circle cx="375.5" cy="732.2" r="5.8"/>
<circle cx="373.1" cy="733.4" r="5.8"/>
<circle cx="370.4" cy="735.2" r="5.8"/>
<circle cx="367.8" cy="734.5" r="5.8"/>
<circle cx="366.8" cy="734.3" r="5.8"/>
<circle cx="368.0" cy="734.0" r="5.8"/>
<circle cx="364.5" cy="734.7" r="5.8"/>
<circle cx="361.7" cy="733.9" r="5.8"/>
<circle cx="360.9" cy="733.0" r="5.8"/>
<circle cx="358.8" cy="732.3" r="5.8"/>
<circle cx="356.6" cy="732.2" r="5.8"/>
<circle cx="352.8" cy="731.0" r="5.8"/>
<circle cx="351.2" cy="731.2" r="5.8"/>
<circle cx="350.2" cy="731.5" r="5.8"/>
<circle cx="348.2" cy="729.3" r="5.8"/>
<circle cx="346.5" cy="728.9" r="5.8"/>
<circle cx="342.8" cy="727.8" r="5.8"/>
<circle cx="342.8" cy="726.3" r="5.8"/>
<circle cx="340.3" cy="726.6" r="5.8"/>
<circle cx="337.5" cy="724.6" r="5.8"/>
<circle cx="336.6" cy="723.7" r="5.8"/>
<circle cx="335.0" cy="720.9" r="5.8"/>
<circle cx="334.0" cy="719.7" r="5.8"/>
<circle cx="330.8" cy="718.3" r="5.8"/>
<circle cx="328.4" cy="715.4" r="5.8"/>
<circle cx="327.7" cy="715.3" r="5.8"/>
<circle cx="328.0" cy="712.8" r="5.8"/>
<circle cx="325.8" cy="711.1" r="5.8"/>
<circle cx="324.5" cy="710.6" r="5.8"/>
<circle cx="324.1" cy="707.3" r="5.8"/>
<circle cx="323.5" cy="705.8" r="5.8"/>
<circle cx="323.0" cy="703.3" r="5.8"/>
<circle cx="320.1" cy="701.6" r="5.8"/>
<circle cx="318.4" cy="699.5" r="5.8"/>
<circle cx="318.5" cy="697.9" r="5.8"/>
<circle cx="317.0" cy="696.9" r="5.8"/>
<circle cx="314.8" cy="693.5" r="5.8"/>
<circle cx="315.6" cy="690.7" r="5.8"/>
<circle cx="313.3" cy="690.5" r="5.8"/>
<circle cx="311.9" cy="687.1" r="5.8"/>
<circle cx="311.1" cy="684.6" r="5.8"/>
<circle cx="309.4" cy="684.2" r="5.8"/>
<circle cx="307.4" cy="682.3" r="5.8"/>
<circle cx="306.7" cy="678.1" r="5.8"/>
<circle cx="306.2" cy="678.9" r="5.8"/>
<circle cx="307.1" cy="676.0" r="5.8"/>
<circle cx="306.8" cy="674.5" r="5.8"/>
<circle cx="305.3" cy="672.4" r="5.8"/>
<circle cx="305.1" cy="670.9" r="5.8"/>
<circle cx="305.0" cy="669.9" r="5.8"/>
<circle cx="305.7" cy="666.1" r="5.8"/>
<circle cx="305.7" cy="663.7" r="5.8"/>
<circle cx="305.4" cy="662.8" r="5.8"/>
<circle cx="305.9" cy="660.2" r="5.8"/>
<circle cx="304.8" cy="657.8" r="5.8"/>
<circle cx="306.2" cy="655.3" r="5.8"/>
<circle cx="306.1" cy="654.0" r="5.8"/>
<circle cx="304.8" cy="652.3" r="5.8"/>
<circle cx="306.0" cy="649.6" r="5.8"/>
<circle cx="304.7" cy="646.2" r="5.8"/>
<circle cx="304.5" cy="644.9" r="5.8"/>
<circle cx="305.8" cy="642.1" r="5.8"/>
<circle cx="305.2" cy="639.1" r="5.8"/>
<circle cx="303.4" cy="637.5" r="5.8"/>
<circle cx="302.5" cy="635.5" r="5.8"/>
<circle cx="306.4" cy="634.4" r="5.8"/>
<circle cx="306.2" cy="632.1" r="5.8"/>
<circle cx="303.9" cy="630.1" r="5.8"/>
<circle cx="305.8" cy="626.6" r="5.8"/>
<circle cx="301.8" cy="625.6" r="5.8"/>
<circle cx="301.9" cy="621.7" r="5.8"/>
<circle cx="306.0" cy="619.3" r="5.8"/>
<circle cx="303.9" cy="618.9" r="5.8"/>
<circle cx="305.6" cy="615.1" r="5.8"/>
<circle cx="304.4" cy="613.3" r="5.8"/>
<circle cx="303.2" cy="610.8" r="5.8"/>
<circle cx="301.8" cy="610.2" r="5.8"/>
<circle cx="304.7" cy="607.2" r="5.8"/>
<circle cx="306.3" cy="604.7" r="5.8"/>
<circle cx="301.7" cy="603.5" r="5.8"/>
<circle cx="305.8" cy="600.6" r="5.8"/>
<circle cx="302.5" cy="598.7" r="5.8"/>
<circle cx="300.9" cy="596.6" r="5.8"/>
<circle cx="303.8" cy="592.6" r="5.8"/>
<circle cx="304.6" cy="591.5" r="5.8"/>
<circle cx="300.9" cy="589.6" r="5.8"/>
<circle cx="304.4" cy="587.5" r="5.8"/>
<circle cx="304.1" cy="584.8" r="5.8"/>
<circle cx="306.1" cy="583.5" r="5.8"/>
<circle cx="304.5" cy="579.7" r="5.8"/>
<circle cx="301.6" cy="578.4" r="5.8"/>
<circle cx="300.9" cy="577.0" r="5.8"/>
<circle cx="304.9" cy="573.7" r="5.8"/>
<circle cx="305.1" cy="572.1" r="5.8"/>
<circle cx="306.0" cy="568.8" r="5.8"/>
<circle cx="300.9" cy="567.4" r="5.8"/>
<circle cx="304.7" cy="564.5" r="5.8"/>
<circle cx="304.1" cy="562.1" r="5.8"/>
<circle cx="303.7" cy="559.6" r="5.8"/>
<circle cx="305.9" cy="557.8" r="5.8"/>
<circle cx="304.7" cy="556.6" r="5.8"/>
<circle cx="300.9" cy="554.6" r="5.8"/>
<circle cx="304.1" cy="551.1" r="5.8"/>
<circle cx="304.9" cy="550.3" r="5.8"/>
<circle cx="305.4" cy="546.5" r="5.8"/>
<circle cx="303.0" cy="544.7" r="5.8"/>
<circle cx="305.0" cy="543.8" r="5.8"/>
<circle cx="305.3" cy="540.1" r="5.8"/>
<circle cx="304.2" cy="538.4" r="5.8"/>
<circle cx="305.9" cy="536.3" r="5.8"/>
<circle cx="305.5" cy="534.1" r="5.8"/>
<circle cx="304.5" cy="531.9" r="5.8"/>
<circle cx="306.0" cy="528.6" r="5.8"/>
<circle cx="305.8" cy="526.5" r="5.8"/>
<circle cx="304.7" cy="525.2" r="5.8"/>
<circle cx="305.0" cy="523.7" r="5.8"/>
<circle cx="304.4" cy="520.2" r="5.8"/>
<circle cx="303.1" cy="518.5" r="5.8"/>
<circle cx="304.3" cy="515.3" r="5.8"/>
<circle cx="304.9" cy="513.4" r="5.8"/>
<circle cx="303.9" cy="510.7" r="5.8"/>
<circle cx="306.1" cy="510.3" r="5.8"/>
<circle cx="304.1" cy="507.3" r="5.8"/>
<circle cx="305.9" cy="505.1" r="5.8"/>
<circle cx="306.2" cy="502.6" r="5.8"/>
<circle cx="304.0" cy="500.9" r="5.8"/>
<circle cx="300.9" cy="498.7" r="5.8"/>
<circle cx="302.8" cy="496.6" r="5.8"/>
<circle cx="302.4" cy="495.2" r="5.8"/>
<circle cx="301.6" cy="492.2" r="5.8"/>
<circle cx="301.8" cy="488.7" r="5.8"/>
<circle cx="301.1" cy="487.7" r="5.8"/>
<circle cx="305.6" cy="484.5" r="5.8"/>
<circle cx="304.5" cy="482.9" r="5.8"/>
<circle cx="305.7" cy="481.1" r="5.8"/>
<circle cx="303.4" cy="477.9" r="5.8"/>
<circle cx="302.0" cy="477.2" r="5.8"/>
<circle cx="303.7" cy="474.7" r="5.8"/>
<circle cx="303.8" cy="472.7" r="5.8"/>
<circle cx="303.1" cy="470.2" r="5.8"/>
<circle cx="305.6" cy="467.7" r="5.8"/>
<circle cx="306.5" cy="465.6" r="5.8"/>
<circle cx="306.2" cy="464.1" r="5.8"/>
<circle cx="300.9" cy="467.5" r="5.8"/>
<circle cx="302.1" cy="460.3" r="5.8"/>
<circle cx="305.1" cy="467.1" r="5.8"/>
<circle cx="306.6" cy="468.4" r="5.8"/>
<circle cx="309.9" cy="463.6" r="5.8"/>
<circle cx="312.0" cy="468.3" r="5.8"/>
<circle cx="314.9" cy="468.0" r="5.8"/>
<circle cx="315.6" cy="467.7" r="5.8"/>
<circle cx="319.1" cy="466.6" r="5.8"/>
</g>
<g fill="#ffa500" fill-opacity="0.6">
<circle cx="509.5" cy="240.3" r="5.8"/>
<circle cx="477.3" cy="272.7" r="5.8"/>
<circle cx="547.1" cy="270.5" r="5.8"/>
<circle cx="527.6" cy="289.5" r="5.8"/>
<circle cx="537.9" cy="291.3" r="5.8"/>
<circle cx="447.0" cy="294.0" r="5.8"/>
<circle cx="452.4" cy="299.9" r="5.8"/>
<circle cx="562.7" cy="299.8" r="5.8"/>
<circle cx="477.0" cy="313.9" r="5.8"/>
<circle cx="481.5" cy="341.0" r="5.8"/>
<circle cx="564.5" cy="335.5" r="5.8"/>
<circle cx="451.5" cy="350.9" r="5.8"/>
<circle cx="550.9" cy="348.2" r="5.8"/>
<circle cx="537.7" cy="358.6" r="5.8"/>
<circle cx="553.3" cy="375.2" r="5.8"/>
<circle cx="609.1" cy="385.5" r="5.8"/>
<circle cx="596.3" cy="406.9" r="5.8"/>
<circle cx="596.8" cy="425.3" r="5.8"/>
<circle cx="445.2" cy="366.2" r="5.8"/>
<circle cx="456.9" cy="368.0" r="5.8"/>
<circle cx="476.8" cy="373.1" r="5.8"/>
<circle cx="494.9" cy="372.5" r="5.8"/>
<circle cx="469.6" cy="376.1" r="5.8"/>
<circle cx="472.3" cy="378.9" r="5.8"/>
<circle cx="459.6" cy="378.9" r="5.8"/>
<circle cx="459.6" cy="385.2" r="5.8"/>
<circle cx="472.3" cy="384.3" r="5.8"/>
<circle cx="490.0" cy="383.7" r="5.8"/>
<circle cx="504.5" cy="386.4" r="5.8"/>
<circle cx="464.2" cy="395.7" r="5.8"/>
<circle cx="470.5" cy="396.6" r="5.8"/>
<circle cx="446.1" cy="397.8" r="5.8"/>
<circle cx="447.9" cy="400.5" r="5.8"/>
<circle cx="468.7" cy="410.1" r="5.8"/>
<circle cx="500.3" cy="406.5" r="5.8"/>
<circle cx="503.0" cy="410.8" r="5.8"/>
<circle cx="508.4" cy="414.6" r="5.8"/>
<circle cx="487.3" cy="415.0" r="5.8"/>
<circle cx="454.2" cy="420.4" r="5.8"/>
<circle cx="447.9" cy="424.0" r="5.8"/>
<circle cx="454.2" cy="424.9" r="5.8"/>
<circle cx="462.3" cy="429.5" r="5.8"/>
<circle cx="475.0" cy="430.7" r="5.8"/>
<circle cx="468.7" cy="434.9" r="5.8"/>
<circle cx="479.2" cy="439.9" r="5.8"/>
<circle cx="488.2" cy="433.1" r="5.8"/>
<circle cx="498.9" cy="427.7" r="5.8"/>
<circle cx="508.8" cy="434.0" r="5.8"/>
<circle cx="528.9" cy="429.5" r="5.8"/>
<circle cx="536.4" cy="444.3" r="5.8"/>
<circle cx="524.3" cy="447.9" r="5.8"/>
<circle cx="441.6" cy="439.9" r="5.8"/>
<circle cx="433.4" cy="434.0" r="5.8"/>
<circle cx="469.2" cy="447.5" r="5.8"/>
<circle cx="437.0" cy="452.0" r="5.8"/>
<circle cx="440.7" cy="457.5" r="5.8"/>
<circle cx="447.0" cy="457.5" r="5.8"/>
<circle cx="450.6" cy="462.0" r="5.8"/>
<circle cx="435.2" cy="464.7" r="5.8"/>
<circle cx="474.1" cy="456.2" r="5.8"/>
<circle cx="486.7" cy="457.5" r="5.8"/>
<circle cx="475.9" cy="461.1" r="5.8"/>
<circle cx="483.1" cy="462.9" r="5.8"/>
<circle cx="470.5" cy="465.6" r="5.8"/>
<circle cx="475.0" cy="472.8" r="5.8"/>
<circle cx="462.3" cy="471.0" r="5.8"/>
<circle cx="457.8" cy="468.3" r="5.8"/>
<circle cx="448.8" cy="471.9" r="5.8"/>
<circle cx="454.2" cy="478.3" r="5.8"/>
<circle cx="444.3" cy="481.0" r="5.8"/>
<circle cx="437.0" cy="480.1" r="5.8"/>
<circle cx="465.1" cy="482.8" r="5.8"/>
<circle cx="484.9" cy="475.5" r="5.8"/>
<circle cx="480.4" cy="481.0" r="5.8"/>
<circle cx="494.9" cy="470.1" r="5.8"/>
<circle cx="499.0" cy="473.4" r="5.8"/>
<circle cx="504.8" cy="481.9" r="5.8"/>
<circle cx="517.1" cy="469.8" r="5.8"/>
<circle cx="592.8" cy="496.8" r="5.8"/>
<circle cx="551.4" cy="489.0" r="5.8"/>
<circle cx="536.4" cy="491.7" r="5.8"/>
<circle cx="506.6" cy="497.5" r="5.8"/>
<circle cx="523.4" cy="503.1" r="5.8"/>
<circle cx="524.7" cy="514.0" r="5.8"/>
<circle cx="502.7" cy="512.5" r="5.8"/>
<circle cx="547.3" cy="525.5" r="5.8"/>
<circle cx="511.1" cy="523.7" r="5.8"/>
<circle cx="496.7" cy="525.2" r="5.8"/>
<circle cx="492.2" cy="521.6" r="5.8"/>
<circle cx="486.7" cy="528.8" r="5.8"/>
<circle cx="512.0" cy="545.1" r="5.8"/>
<circle cx="534.6" cy="548.1" r="5.8"/>
<circle cx="577.7" cy="549.9" r="5.8"/>
<circle cx="540.6" cy="559.0" r="5.8"/>
<circle cx="548.2" cy="573.4" r="5.8"/>
<circle cx="484.4" cy="548.1" r="5.8"/>
<circle cx="499.0" cy="564.0" r="5.8"/>
<circle cx="483.1" cy="566.4" r="5.8"/>
<circle cx="483.5" cy="571.3" r="5.8"/>
<circle cx="474.6" cy="592.0" r="5.8"/>
<circle cx="498.5" cy="596.0" r="5.8"/>
<circle cx="513.3" cy="626.0" r="5.8"/>
<circle cx="479.0" cy="621.9" r="5.8"/>
<circle cx="484.0" cy="625.5" r="5.8"/>
<circle cx="462.0" cy="626.4" r="5.8"/>
<circle cx="467.8" cy="616.8" r="5.8"/>
<circle cx="468.7" cy="604.7" r="5.8"/>
<circle cx="462.3" cy="601.1" r="5.8"/>
<circle cx="456.9" cy="596.6" r="5.8"/>
<circle cx="456.0" cy="606.5" r="5.8"/>
<circle cx="465.1" cy="586.6" r="5.8"/>
<circle cx="467.8" cy="568.6" r="5.8"/>
<circle cx="466.9" cy="578.5" r="5.8"/>
<circle cx="459.6" cy="579.4" r="5.8"/>
<circle cx="472.3" cy="553.2" r="5.8"/>
<circle cx="466.9" cy="550.5" r="5.8"/>
<circle cx="459.6" cy="554.1" r="5.8"/>
<circle cx="487.7" cy="502.6" r="5.8"/>
<circle cx="490.4" cy="492.7" r="5.8"/>
<circle cx="481.3" cy="484.5" r="5.8"/>
<circle cx="472.3" cy="492.7" r="5.8"/>
<circle cx="470.5" cy="496.3" r="5.8"/>
<circle cx="461.4" cy="512.5" r="5.8"/>
<circle cx="470.5" cy="508.9" r="5.8"/>
<circle cx="476.8" cy="517.0" r="5.8"/>
<circle cx="466.9" cy="523.4" r="5.8"/>
<circle cx="454.2" cy="523.4" r="5.8"/>
<circle cx="470.5" cy="532.4" r="5.8"/>
<circle cx="463.3" cy="536.0" r="5.8"/>
<circle cx="454.2" cy="483.6" r="5.8"/>
<circle cx="469.0" cy="643.1" r="5.8"/>
<circle cx="469.0" cy="654.9" r="5.8"/>
<circle cx="454.2" cy="629.0" r="5.8"/>
<circle cx="452.4" cy="637.2" r="5.8"/>
<circle cx="446.1" cy="639.9" r="5.8"/>
<circle cx="479.5" cy="630.8" r="5.8"/>
<circle cx="439.8" cy="630.8" r="5.8"/>
<circle cx="438.9" cy="638.1" r="5.8"/>
<circle cx="439.8" cy="645.3" r="5.8"/>
<circle cx="438.9" cy="652.5" r="5.8"/>
<circle cx="447.3" cy="652.9" r="5.8"/>
<circle cx="444.3" cy="660.7" r="5.8"/>
<circle cx="450.6" cy="662.5" r="5.8"/>
<circle cx="448.8" cy="665.2" r="5.8"/>
<circle cx="440.7" cy="667.9" r="5.8"/>
<circle cx="437.0" cy="673.3" r="5.8"/>
<circle cx="440.7" cy="674.2" r="5.8"/>
<circle cx="445.5" cy="687.2" r="5.8"/>
<circle cx="438.9" cy="688.7" r="5.8"/>
<circle cx="490.9" cy="706.2" r="5.8"/>
<circle cx="448.8" cy="622.7" r="5.8"/>
<circle cx="441.6" cy="622.7" r="5.8"/>
<circle cx="437.8" cy="593.9" r="5.8"/>
<circle cx="436.6" cy="548.2" r="5.8"/>
<circle cx="437.5" cy="561.1" r="5.8"/>
<circle cx="438.8" cy="577.5" r="5.8"/>
<circle cx="443.4" cy="617.1" r="5.8"/>
<circle cx="454.7" cy="549.9" r="5.8"/>
<circle cx="440.7" cy="657.7" r="5.8"/>
<circle cx="435.8" cy="542.7" r="5.8"/>
<circle cx="464.4" cy="551.9" r="5.8"/>
<circle cx="439.1" cy="655.1" r="5.8"/>
<circle cx="436.8" cy="612.3" r="5.8"/>
<circle cx="438.6" cy="504.4" r="5.8"/>
<circle cx="459.3" cy="504.3" r="5.8"/>
<circle cx="440.6" cy="517.6" r="5.8"/>
<circle cx="452.5" cy="528.1" r="5.8"/>
<circle cx="434.5" cy="527.4" r="5.8"/>
<circle cx="437.7" cy="566.2" r="5.8"/>
<circle cx="437.9" cy="486.0" r="5.8"/>
<circle cx="443.8" cy="627.3" r="5.8"/>
<circle cx="438.3" cy="490.4" r="5.8"/>
<circle cx="434.0" cy="544.5" r="5.8"/>
<circle cx="436.4" cy="509.3" r="5.8"/>
<circle cx="435.5" cy="649.8" r="5.8"/>
<circle cx="434.7" cy="587.6" r="5.8"/>
<circle cx="447.7" cy="601.8" r="5.8"/>
<circle cx="440.9" cy="549.6" r="5.8"/>
<circle cx="440.5" cy="532.0" r="5.8"/>
<circle cx="446.6" cy="501.6" r="5.8"/>
<circle cx="443.6" cy="590.4" r="5.8"/>
<circle cx="434.8" cy="560.6" r="5.8"/>
<circle cx="445.4" cy="579.9" r="5.8"/>
<circle cx="446.7" cy="557.9" r="5.8"/>
<circle cx="437.4" cy="518.5" r="5.8"/>
<circle cx="444.7" cy="638.3" r="5.8"/>
<circle cx="440.6" cy="671.1" r="5.8"/>
<circle cx="438.4" cy="512.8" r="5.8"/>
<circle cx="436.3" cy="501.7" r="5.8"/>
<circle cx="441.4" cy="515.3" r="5.8"/>
<circle cx="449.2" cy="506.6" r="5.8"/>
<circle cx="436.9" cy="606.6" r="5.8"/>
<circle cx="435.5" cy="687.1" r="5.8"/>
<circle cx="437.3" cy="575.3" r="5.8"/>
<circle cx="434.2" cy="540.9" r="5.8"/>
<circle cx="437.0" cy="585.5" r="5.8"/>
<circle cx="446.0" cy="597.4" r="5.8"/>
<circle cx="435.5" cy="627.5" r="5.8"/>
<circle cx="440.5" cy="600.9" r="5.8"/>
<circle cx="449.9" cy="519.2" r="5.8"/>
<circle cx="435.3" cy="504.8" r="5.8"/>
<circle cx="434.6" cy="592.5" r="5.8"/>
<circle cx="442.5" cy="597.5" r="5.8"/>
<circle cx="465.4" cy="463.2" r="5.8"/>
<circle cx="441.4" cy="536.3" r="5.8"/>
<circle cx="435.6" cy="564.6" r="5.8"/>
<circle cx="452.9" cy="510.2" r="5.8"/>
<circle cx="441.5" cy="572.6" r="5.8"/>
<circle cx="445.3" cy="509.3" r="5.8"/>
<circle cx="435.0" cy="601.2" r="5.8"/>
<circle cx="441.3" cy="604.7" r="5.8"/>
<circle cx="434.8" cy="614.5" r="5.8"/>
<circle cx="448.7" cy="569.1" r="5.8"/>
<circle cx="437.8" cy="644.5" r="5.8"/>
<circle cx="440.2" cy="618.5" r="5.8"/>
<circle cx="448.5" cy="599.2" r="5.8"/>
<circle cx="442.3" cy="636.4" r="5.8"/>
<circle cx="434.6" cy="596.7" r="5.8"/>
<circle cx="437.3" cy="604.4" r="5.8"/>
<circle cx="437.9" cy="610.1" r="5.8"/>
<circle cx="437.9" cy="692.6" r="5.8"/>
<circle cx="438.0" cy="665.2" r="5.8"/>
<circle cx="443.3" cy="506.2" r="5.8"/>
<circle cx="449.2" cy="522.6" r="5.8"/>
<circle cx="450.0" cy="640.1" r="5.8"/>
<circle cx="441.0" cy="587.7" r="5.8"/>
<circle cx="447.7" cy="485.9" r="5.8"/>
<circle cx="443.3" cy="667.7" r="5.8"/>
<circle cx="452.0" cy="505.0" r="5.8"/>
<circle cx="436.8" cy="620.0" r="5.8"/>
<circle cx="456.9" cy="579.0" r="5.8"/>
<circle cx="452.9" cy="471.7" r="5.8"/>
<circle cx="440.3" cy="590.5" r="5.8"/>
<circle cx="437.0" cy="532.1" r="5.8"/>
<circle cx="453.0" cy="594.4" r="5.8"/>
<circle cx="446.3" cy="617.9" r="5.8"/>
<circle cx="456.1" cy="599.6" r="5.8"/>
<circle cx="460.6" cy="542.3" r="5.8"/>
<circle cx="436.8" cy="516.4" r="5.8"/>
<circle cx="448.6" cy="638.1" r="5.8"/>
<circle cx="449.1" cy="504.3" r="5.8"/>
<circle cx="444.0" cy="562.2" r="5.8"/>
<circle cx="438.4" cy="558.3" r="5.8"/>
<circle cx="438.7" cy="647.3" r="5.8"/>
<circle cx="444.9" cy="443.5" r="5.8"/>
<circle cx="445.6" cy="608.8" r="5.8"/>
<circle cx="454.8" cy="534.6" r="5.8"/>
<circle cx="441.7" cy="541.9" r="5.8"/>
<circle cx="436.5" cy="536.1" r="5.8"/>
<circle cx="444.1" cy="642.1" r="5.8"/>
<circle cx="438.5" cy="545.1" r="5.8"/>
<circle cx="437.4" cy="554.3" r="5.8"/>
<circle cx="449.4" cy="539.8" r="5.8"/>
<circle cx="443.8" cy="560.1" r="5.8"/>
<circle cx="446.8" cy="489.7" r="5.8"/>
<circle cx="441.3" cy="511.2" r="5.8"/>
<circle cx="446.1" cy="541.0" r="5.8"/>
<circle cx="443.4" cy="592.9" r="5.8"/>
<circle cx="467.7" cy="556.0" r="5.8"/>
<circle cx="451.6" cy="560.2" r="5.8"/>
<circle cx="435.6" cy="599.2" r="5.8"/>
<circle cx="439.5" cy="529.2" r="5.8"/>
<circle cx="437.6" cy="570.3" r="5.8"/>
<circle cx="464.5" cy="496.6" r="5.8"/>
<circle cx="457.8" cy="512.0" r="5.8"/>
<circle cx="453.5" cy="543.9" r="5.8"/>
<circle cx="442.9" cy="558.0" r="5.8"/>
<circle cx="447.0" cy="570.4" r="5.8"/>
<circle cx="453.2" cy="532.5" r="5.8"/>
<circle cx="440.0" cy="521.3" r="5.8"/>
<circle cx="454.7" cy="580.8" r="5.8"/>
<circle cx="442.1" cy="585.3" r="5.8"/>
<circle cx="442.8" cy="568.7" r="5.8"/>
<circle cx="439.9" cy="502.7" r="5.8"/>
<circle cx="450.7" cy="529.5" r="5.8"/>
<circle cx="465.2" cy="475.2" r="5.8"/>
<circle cx="436.5" cy="577.6" r="5.8"/>
<circle cx="435.7" cy="661.6" r="5.8"/>
<circle cx="446.7" cy="552.9" r="5.8"/>
<circle cx="440.9" cy="523.1" r="5.8"/>
<circle cx="442.1" cy="502.2" r="5.8"/>
<circle cx="434.2" cy="552.1" r="5.8"/>
<circle cx="437.2" cy="581.2" r="5.8"/>
<circle cx="438.4" cy="507.8" r="5.8"/>
<circle cx="435.2" cy="514.3" r="5.8"/>
<circle cx="444.6" cy="502.5" r="5.8"/>
<circle cx="436.5" cy="590.5" r="5.8"/>
<circle cx="434.8" cy="493.9" r="5.8"/>
<circle cx="445.8" cy="564.8" r="5.8"/>
<circle cx="434.7" cy="567.3" r="5.8"/>
<circle cx="434.8" cy="618.9" r="5.8"/>
<circle cx="463.5" cy="521.2" r="5.8"/>
<circle cx="442.0" cy="526.7" r="5.8"/>
<circle cx="434.4" cy="524.7" r="5.8"/>
<circle cx="447.6" cy="544.5" r="5.8"/>
<circle cx="440.3" cy="592.8" r="5.8"/>
<circle cx="453.0" cy="452.3" r="5.8"/>
<circle cx="447.1" cy="513.2" r="5.8"/>
<circle cx="468.8" cy="579.5" r="5.8"/>
<circle cx="464.4" cy="591.2" r="5.8"/>
<circle cx="443.2" cy="554.8" r="5.8"/>
<circle cx="440.1" cy="583.0" r="5.8"/>
<circle cx="452.5" cy="599.9" r="5.8"/>
<circle cx="435.7" cy="644.5" r="5.8"/>
<circle cx="474.0" cy="518.2" r="5.8"/>
<circle cx="474.4" cy="547.1" r="5.8"/>
<circle cx="469.6" cy="598.8" r="5.8"/>
<circle cx="445.3" cy="511.9" r="5.8"/>
<circle cx="441.5" cy="482.7" r="5.8"/>
<circle cx="456.2" cy="523.9" r="5.8"/>
<circle cx="460.7" cy="544.7" r="5.8"/>
<circle cx="436.4" cy="520.3" r="5.8"/>
</g>
<g stroke="#000" stroke-width="3.5" fill="none" stroke-dasharray="3.5 10.4 13.9 10.4">
<path d="M300.90 76.65V767.60"/>
<path d="M433.70 76.65V767.60"/>
<path d="M75.35 718.4H659.30"/>
</g>
<rect x="75.7" y="74.6" width="583.60" height="693.00" fill="none" stroke="#111" stroke-width="1.75"/>
<path d="M101.60 767.60v5.6M234.40 767.60v5.6M367.20 767.60v5.6M500.00 767.60v5.6M632.80 767.60v5.6M75.70 736.30h-6.2M75.70 599.85h-6.2M75.70 463.40h-6.2M75.70 326.95h-6.2M75.70 190.50h-6.2" stroke="#1a1a1a" stroke-width="1.9" fill="none"/>
<text class="at" x="101.60" y="790.8" text-anchor="middle">−2</text>
<text class="at" x="234.40" y="790.8" text-anchor="middle">−1</text>
<text class="at" x="367.20" y="790.8" text-anchor="middle">0</text>
<text class="at" x="500.00" y="790.8" text-anchor="middle">1</text>
<text class="at" x="632.80" y="790.8" text-anchor="middle">2</text>
<text class="at" x="64.6" y="742.90" text-anchor="end">0</text>
<text class="at" x="64.6" y="606.45" text-anchor="end">10</text>
<text class="at" x="64.6" y="470.00" text-anchor="end">20</text>
<text class="at" x="64.6" y="333.55" text-anchor="end">30</text>
<text class="at" x="64.6" y="197.10" text-anchor="end">40</text>
<text class="tt" transform="translate(366.3 57.6) scale(1 1.06)" text-anchor="middle">GSE36961−DEGs</text>
<text class="ax" transform="translate(367.3 816.2) scale(1 1)" text-anchor="middle">Log2(fold change)</text>
<text class="ax" style="font-size:22.45px" transform="translate(33.0 421.9) rotate(-90) scale(1 1)" text-anchor="middle">−Log10 (P−Value)</text>
<circle cx="710.3" cy="391.7" r="5.9" fill="#4169e1" fill-opacity="0.6"/>
<text class="lg" x="739.2" y="397.80">Down</text>
<circle cx="710.3" cy="426.6" r="5.9" fill="#333333" fill-opacity="0.6"/>
<text class="lg" x="739.2" y="432.70">Stable</text>
<circle cx="710.3" cy="461.8" r="5.9" fill="#ffa500" fill-opacity="0.6"/>
<text class="lg" x="739.2" y="467.90">Up</text>
</g>
<g id="venn">
<defs>
<clipPath id="clipD"><path d="M1615.50 382.95A201.0 201.0 0 0 1 1600.20 459.87A201.0 201.0 0 0 1 1556.63 525.08A201.0 201.0 0 0 1 1491.42 568.65A201.0 201.0 0 0 1 1414.50 583.95A201.0 201.0 0 0 1 1337.58 568.65A201.0 201.0 0 0 1 1272.37 525.08A201.0 201.0 0 0 1 1228.80 459.87A201.0 201.0 0 0 1 1213.50 382.95A201.0 201.0 0 0 1 1228.80 306.03A201.0 201.0 0 0 1 1272.37 240.82A201.0 201.0 0 0 1 1337.58 197.25A201.0 201.0 0 0 1 1414.50 181.95A201.0 201.0 0 0 1 1491.42 197.25A201.0 201.0 0 0 1 1556.63 240.82A201.0 201.0 0 0 1 1600.20 306.03A201.0 201.0 0 0 1 1615.50 382.95Z"/></clipPath>
<clipPath id="clipW"><path d="M1514.40 556.95A201.0 201.0 0 0 1 1499.10 633.87A201.0 201.0 0 0 1 1455.53 699.08A201.0 201.0 0 0 1 1390.32 742.65A201.0 201.0 0 0 1 1313.40 757.95A201.0 201.0 0 0 1 1236.48 742.65A201.0 201.0 0 0 1 1171.27 699.08A201.0 201.0 0 0 1 1127.70 633.87A201.0 201.0 0 0 1 1112.40 556.95A201.0 201.0 0 0 1 1127.70 480.03A201.0 201.0 0 0 1 1171.27 414.82A201.0 201.0 0 0 1 1236.48 371.25A201.0 201.0 0 0 1 1313.40 355.95A201.0 201.0 0 0 1 1390.32 371.25A201.0 201.0 0 0 1 1455.53 414.82A201.0 201.0 0 0 1 1499.10 480.03A201.0 201.0 0 0 1 1514.40 556.95Z"/></clipPath>
</defs>
<path d="M1514.40 556.95A201.0 201.0 0 0 1 1499.10 633.87A201.0 201.0 0 0 1 1455.53 699.08A201.0 201.0 0 0 1 1390.32 742.65A201.0 201.0 0 0 1 1313.40 757.95A201.0 201.0 0 0 1 1236.48 742.65A201.0 201.0 0 0 1 1171.27 699.08A201.0 201.0 0 0 1 1127.70 633.87A201.0 201.0 0 0 1 1112.40 556.95A201.0 201.0 0 0 1 1127.70 480.03A201.0 201.0 0 0 1 1171.27 414.82A201.0 201.0 0 0 1 1236.48 371.25A201.0 201.0 0 0 1 1313.40 355.95A201.0 201.0 0 0 1 1390.32 371.25A201.0 201.0 0 0 1 1455.53 414.82A201.0 201.0 0 0 1 1499.10 480.03A201.0 201.0 0 0 1 1514.40 556.95Z" fill="#f5cbd3"/>
<path d="M1615.50 382.95A201.0 201.0 0 0 1 1600.20 459.87A201.0 201.0 0 0 1 1556.63 525.08A201.0 201.0 0 0 1 1491.42 568.65A201.0 201.0 0 0 1 1414.50 583.95A201.0 201.0 0 0 1 1337.58 568.65A201.0 201.0 0 0 1 1272.37 525.08A201.0 201.0 0 0 1 1228.80 459.87A201.0 201.0 0 0 1 1213.50 382.95A201.0 201.0 0 0 1 1228.80 306.03A201.0 201.0 0 0 1 1272.37 240.82A201.0 201.0 0 0 1 1337.58 197.25A201.0 201.0 0 0 1 1414.50 181.95A201.0 201.0 0 0 1 1491.42 197.25A201.0 201.0 0 0 1 1556.63 240.82A201.0 201.0 0 0 1 1600.20 306.03A201.0 201.0 0 0 1 1615.50 382.95Z" fill="#cff0cb"/>
<path d="M1716.80 557.00A201.0 201.0 0 0 1 1701.50 633.92A201.0 201.0 0 0 1 1657.93 699.13A201.0 201.0 0 0 1 1592.72 742.70A201.0 201.0 0 0 1 1515.80 758.00A201.0 201.0 0 0 1 1438.88 742.70A201.0 201.0 0 0 1 1373.67 699.13A201.0 201.0 0 0 1 1330.10 633.92A201.0 201.0 0 0 1 1314.80 557.00A201.0 201.0 0 0 1 1330.10 480.08A201.0 201.0 0 0 1 1373.67 414.87A201.0 201.0 0 0 1 1438.88 371.30A201.0 201.0 0 0 1 1515.80 356.00A201.0 201.0 0 0 1 1592.72 371.30A201.0 201.0 0 0 1 1657.93 414.87A201.0 201.0 0 0 1 1701.50 480.08A201.0 201.0 0 0 1 1716.80 557.00Z" fill="#bddef7"/>
<g clip-path="url(#clipD)"><path d="M1514.40 556.95A201.0 201.0 0 0 1 1499.10 633.87A201.0 201.0 0 0 1 1455.53 699.08A201.0 201.0 0 0 1 1390.32 742.65A201.0 201.0 0 0 1 1313.40 757.95A201.0 201.0 0 0 1 1236.48 742.65A201.0 201.0 0 0 1 1171.27 699.08A201.0 201.0 0 0 1 1127.70 633.87A201.0 201.0 0 0 1 1112.40 556.95A201.0 201.0 0 0 1 1127.70 480.03A201.0 201.0 0 0 1 1171.27 414.82A201.0 201.0 0 0 1 1236.48 371.25A201.0 201.0 0 0 1 1313.40 355.95A201.0 201.0 0 0 1 1390.32 371.25A201.0 201.0 0 0 1 1455.53 414.82A201.0 201.0 0 0 1 1499.10 480.03A201.0 201.0 0 0 1 1514.40 556.95Z" fill="#c8ccac"/><path d="M1716.80 557.00A201.0 201.0 0 0 1 1701.50 633.92A201.0 201.0 0 0 1 1657.93 699.13A201.0 201.0 0 0 1 1592.72 742.70A201.0 201.0 0 0 1 1515.80 758.00A201.0 201.0 0 0 1 1438.88 742.70A201.0 201.0 0 0 1 1373.67 699.13A201.0 201.0 0 0 1 1330.10 633.92A201.0 201.0 0 0 1 1314.80 557.00A201.0 201.0 0 0 1 1330.10 480.08A201.0 201.0 0 0 1 1373.67 414.87A201.0 201.0 0 0 1 1438.88 371.30A201.0 201.0 0 0 1 1515.80 356.00A201.0 201.0 0 0 1 1592.72 371.30A201.0 201.0 0 0 1 1657.93 414.87A201.0 201.0 0 0 1 1701.50 480.08A201.0 201.0 0 0 1 1716.80 557.00Z" fill="#9bd4d2"/></g>
<g clip-path="url(#clipW)"><path d="M1716.80 557.00A201.0 201.0 0 0 1 1701.50 633.92A201.0 201.0 0 0 1 1657.93 699.13A201.0 201.0 0 0 1 1592.72 742.70A201.0 201.0 0 0 1 1515.80 758.00A201.0 201.0 0 0 1 1438.88 742.70A201.0 201.0 0 0 1 1373.67 699.13A201.0 201.0 0 0 1 1330.10 633.92A201.0 201.0 0 0 1 1314.80 557.00A201.0 201.0 0 0 1 1330.10 480.08A201.0 201.0 0 0 1 1373.67 414.87A201.0 201.0 0 0 1 1438.88 371.30A201.0 201.0 0 0 1 1515.80 356.00A201.0 201.0 0 0 1 1592.72 371.30A201.0 201.0 0 0 1 1657.93 414.87A201.0 201.0 0 0 1 1701.50 480.08A201.0 201.0 0 0 1 1716.80 557.00Z" fill="#b6bad8"/></g>
<g clip-path="url(#clipD)"><g clip-path="url(#clipW)"><path d="M1716.80 557.00A201.0 201.0 0 0 1 1701.50 633.92A201.0 201.0 0 0 1 1657.93 699.13A201.0 201.0 0 0 1 1592.72 742.70A201.0 201.0 0 0 1 1515.80 758.00A201.0 201.0 0 0 1 1438.88 742.70A201.0 201.0 0 0 1 1373.67 699.13A201.0 201.0 0 0 1 1330.10 633.92A201.0 201.0 0 0 1 1314.80 557.00A201.0 201.0 0 0 1 1330.10 480.08A201.0 201.0 0 0 1 1373.67 414.87A201.0 201.0 0 0 1 1438.88 371.30A201.0 201.0 0 0 1 1515.80 356.00A201.0 201.0 0 0 1 1592.72 371.30A201.0 201.0 0 0 1 1657.93 414.87A201.0 201.0 0 0 1 1701.50 480.08A201.0 201.0 0 0 1 1716.80 557.00Z" fill="#96bbbd"/></g></g>
<g fill="none" stroke="#000" stroke-width="1.6"><path d="M1514.40 556.95A201.0 201.0 0 0 1 1499.10 633.87A201.0 201.0 0 0 1 1455.53 699.08A201.0 201.0 0 0 1 1390.32 742.65A201.0 201.0 0 0 1 1313.40 757.95A201.0 201.0 0 0 1 1236.48 742.65A201.0 201.0 0 0 1 1171.27 699.08A201.0 201.0 0 0 1 1127.70 633.87A201.0 201.0 0 0 1 1112.40 556.95A201.0 201.0 0 0 1 1127.70 480.03A201.0 201.0 0 0 1 1171.27 414.82A201.0 201.0 0 0 1 1236.48 371.25A201.0 201.0 0 0 1 1313.40 355.95A201.0 201.0 0 0 1 1390.32 371.25A201.0 201.0 0 0 1 1455.53 414.82A201.0 201.0 0 0 1 1499.10 480.03A201.0 201.0 0 0 1 1514.40 556.95Z"/><path d="M1615.50 382.95A201.0 201.0 0 0 1 1600.20 459.87A201.0 201.0 0 0 1 1556.63 525.08A201.0 201.0 0 0 1 1491.42 568.65A201.0 201.0 0 0 1 1414.50 583.95A201.0 201.0 0 0 1 1337.58 568.65A201.0 201.0 0 0 1 1272.37 525.08A201.0 201.0 0 0 1 1228.80 459.87A201.0 201.0 0 0 1 1213.50 382.95A201.0 201.0 0 0 1 1228.80 306.03A201.0 201.0 0 0 1 1272.37 240.82A201.0 201.0 0 0 1 1337.58 197.25A201.0 201.0 0 0 1 1414.50 181.95A201.0 201.0 0 0 1 1491.42 197.25A201.0 201.0 0 0 1 1556.63 240.82A201.0 201.0 0 0 1 1600.20 306.03A201.0 201.0 0 0 1 1615.50 382.95Z"/><path d="M1716.80 557.00A201.0 201.0 0 0 1 1701.50 633.92A201.0 201.0 0 0 1 1657.93 699.13A201.0 201.0 0 0 1 1592.72 742.70A201.0 201.0 0 0 1 1515.80 758.00A201.0 201.0 0 0 1 1438.88 742.70A201.0 201.0 0 0 1 1373.67 699.13A201.0 201.0 0 0 1 1330.10 633.92A201.0 201.0 0 0 1 1314.80 557.00A201.0 201.0 0 0 1 1330.10 480.08A201.0 201.0 0 0 1 1373.67 414.87A201.0 201.0 0 0 1 1438.88 371.30A201.0 201.0 0 0 1 1515.80 356.00A201.0 201.0 0 0 1 1592.72 371.30A201.0 201.0 0 0 1 1657.93 414.87A201.0 201.0 0 0 1 1701.50 480.08A201.0 201.0 0 0 1 1716.80 557.00Z"/></g>
<text class="vl" x="1426.7" y="171.2" text-anchor="middle">DEGs</text>
<text class="vl" x="1085.8" y="435" text-anchor="middle">WGCNA</text>
<text class="vl" x="1722.6" y="415.4" text-anchor="middle">EMRGs</text>
<text class="vn" x="1413.6" y="301.3" text-anchor="middle">224</text>
<text class="vn" x="1297.4" y="441.5" text-anchor="middle">441</text>
<text class="vn" x="1530.3" y="441.5" text-anchor="middle">15</text>
<text class="vn" x="1414" y="510.9" text-anchor="middle">47</text>
<text class="vn" x="1228" y="618.8" text-anchor="middle">2110</text>
<text class="vn" x="1414" y="646.1" text-anchor="middle">112</text>
<text class="vn" x="1599" y="618.8" text-anchor="middle">753</text>
</g>
</svg></body></html>
